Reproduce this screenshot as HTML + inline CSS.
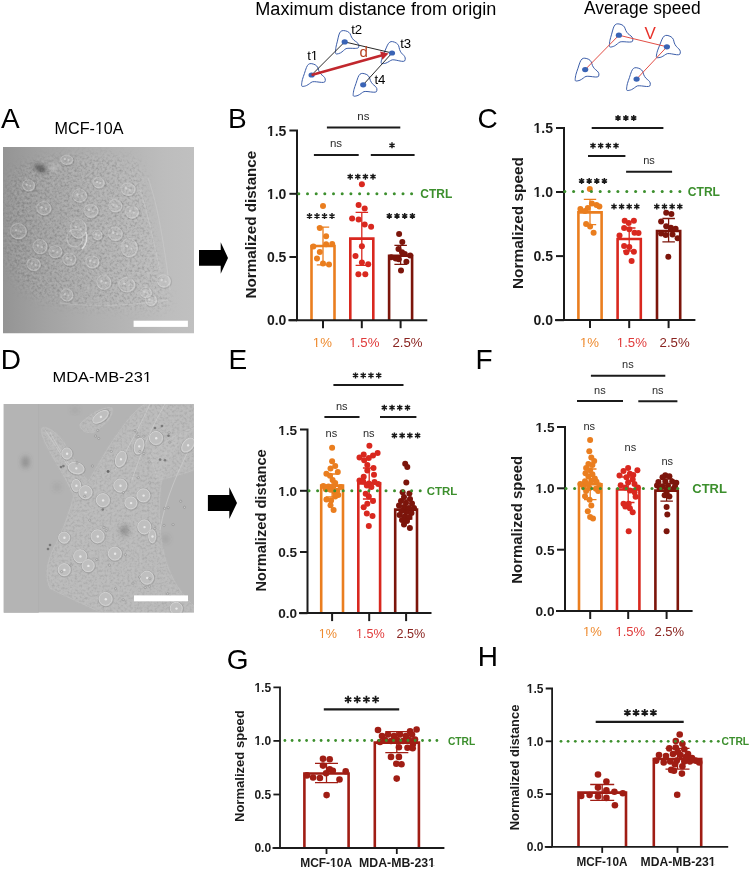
<!DOCTYPE html>
<html><head><meta charset="utf-8"><style>
html,body{margin:0;padding:0;background:#fff;}
body{width:749px;height:869px;overflow:hidden;}
svg{display:block;will-change:transform;}
</style></head><body>
<svg width="749" height="869" viewBox="0 0 749 869" font-family="Liberation Sans, sans-serif">
<rect width="749" height="869" fill="#fff"/>
<text x="255.3" y="15.0" font-size="18.00" font-weight="normal" fill="#000" text-anchor="start" textLength="241.0" lengthAdjust="spacingAndGlyphs">Maximum distance from origin</text>
<text x="583.9" y="14.2" font-size="17.60" font-weight="normal" fill="#000" text-anchor="start" textLength="116.8" lengthAdjust="spacingAndGlyphs">Average speed</text>
<path d="M308.40,64.40C309.20,63.73 310.07,63.53 311.20,63.60C312.33,63.67 314.13,64.20 315.20,64.80C316.27,65.40 317.00,66.20 317.60,67.20C318.20,68.20 318.27,69.67 318.80,70.80C319.33,71.93 320.00,73.07 320.80,74.00C321.60,74.93 322.87,75.60 323.60,76.40C324.33,77.20 325.00,77.88 325.20,78.80C325.40,79.72 325.40,81.30 324.80,81.90C324.20,82.50 323.00,82.42 321.60,82.40C320.20,82.38 317.93,81.90 316.40,81.80C314.87,81.70 313.53,81.50 312.40,81.80C311.27,82.10 310.60,82.97 309.60,83.60C308.60,84.23 307.60,85.13 306.40,85.60C305.20,86.07 303.20,86.53 302.40,86.40C301.60,86.27 301.60,85.93 301.60,84.80C301.60,83.67 301.93,81.47 302.40,79.60C302.87,77.73 303.73,75.60 304.40,73.60C305.07,71.60 305.73,69.13 306.40,67.60C307.07,66.07 307.60,65.07 308.40,64.40Z" fill="none" stroke="#3B5DA9" stroke-width="1.0"/>
<path d="M340.59,31.62C341.33,30.89 342.17,30.61 343.31,30.58C344.44,30.55 346.28,30.92 347.40,31.43C348.51,31.93 349.31,32.66 350.00,33.61C350.68,34.55 350.88,36.01 351.51,37.09C352.14,38.17 352.90,39.24 353.78,40.10C354.66,40.96 355.98,41.52 356.78,42.25C357.58,42.98 358.30,43.60 358.58,44.50C358.86,45.40 359.00,46.97 358.45,47.62C357.91,48.27 356.70,48.29 355.31,48.40C353.91,48.51 351.61,48.22 350.07,48.26C348.54,48.29 347.19,48.21 346.09,48.60C344.99,49.00 344.40,49.92 343.46,50.64C342.52,51.36 341.60,52.34 340.44,52.91C339.29,53.48 337.34,54.12 336.53,54.06C335.72,54.00 335.69,53.66 335.59,52.53C335.49,51.41 335.63,49.18 335.94,47.28C336.24,45.38 336.92,43.18 337.41,41.13C337.90,39.08 338.34,36.57 338.87,34.98C339.41,33.40 339.85,32.35 340.59,31.62Z" fill="none" stroke="#3B5DA9" stroke-width="1.0"/>
<path d="M389.74,42.16C390.59,41.57 391.47,41.44 392.60,41.61C393.72,41.77 395.46,42.46 396.48,43.15C397.49,43.84 398.15,44.70 398.66,45.75C399.17,46.80 399.11,48.27 399.54,49.44C399.97,50.62 400.54,51.81 401.25,52.81C401.97,53.81 403.17,54.58 403.83,55.44C404.49,56.30 405.10,57.04 405.22,57.97C405.34,58.90 405.20,60.48 404.55,61.02C403.90,61.57 402.71,61.38 401.32,61.24C399.92,61.10 397.71,60.43 396.19,60.19C394.67,59.96 393.36,59.64 392.20,59.84C391.05,60.04 390.31,60.85 389.26,61.39C388.21,61.94 387.13,62.75 385.90,63.11C384.66,63.47 382.63,63.76 381.84,63.55C381.06,63.35 381.09,63.02 381.18,61.89C381.28,60.76 381.81,58.60 382.43,56.78C383.06,54.96 384.11,52.91 384.95,50.98C385.79,49.04 386.67,46.64 387.46,45.17C388.26,43.71 388.88,42.76 389.74,42.16Z" fill="none" stroke="#3B5DA9" stroke-width="1.0"/>
<path d="M360.00,74.20C360.80,73.53 361.67,73.33 362.80,73.40C363.93,73.47 365.73,74.00 366.80,74.60C367.87,75.20 368.60,76.00 369.20,77.00C369.80,78.00 369.87,79.47 370.40,80.60C370.93,81.73 371.60,82.87 372.40,83.80C373.20,84.73 374.47,85.40 375.20,86.20C375.93,87.00 376.60,87.68 376.80,88.60C377.00,89.52 377.00,91.10 376.40,91.70C375.80,92.30 374.60,92.22 373.20,92.20C371.80,92.18 369.53,91.70 368.00,91.60C366.47,91.50 365.13,91.30 364.00,91.60C362.87,91.90 362.20,92.77 361.20,93.40C360.20,94.03 359.20,94.93 358.00,95.40C356.80,95.87 354.80,96.33 354.00,96.20C353.20,96.07 353.20,95.73 353.20,94.60C353.20,93.47 353.53,91.27 354.00,89.40C354.47,87.53 355.33,85.40 356.00,83.40C356.67,81.40 357.33,78.93 358.00,77.40C358.67,75.87 359.20,74.87 360.00,74.20Z" fill="none" stroke="#3B5DA9" stroke-width="1.0"/>
<path d="M311.6,75.0L344.7,41.9L392.0,53.0L363.2,84.8" stroke="#111" stroke-width="0.9" fill="none"/>
<ellipse cx="311.6" cy="75.0" rx="3.1" ry="2.6" fill="#3A64B5"/>
<ellipse cx="344.7" cy="41.9" rx="3.1" ry="2.6" fill="#3A64B5"/>
<ellipse cx="392.0" cy="53.0" rx="3.1" ry="2.6" fill="#3A64B5"/>
<ellipse cx="363.2" cy="84.8" rx="3.1" ry="2.6" fill="#3A64B5"/>
<line x1="311.6" y1="75.0" x2="382.2" y2="55.3" stroke="#C1272D" stroke-width="2.6"/>
<path d="M388.5,53.6L382.4,59.7L380.1,51.6Z" fill="#C1272D"/>
<clipPath id="t1c1"><path d="M-10,-10H760V880H-10ZM310.87,59.01H314.14V61.90H310.87ZM315.40,59.01H318.56V61.90H315.40Z" clip-rule="evenodd"/></clipPath>
<text x="307.2" y="60.4" font-size="13.20" font-weight="normal" fill="#000" text-anchor="start" clip-path="url(#t1c1)">t1</text>
<text x="351.2" y="34.4" font-size="13.20" font-weight="normal" fill="#000" text-anchor="start">t2</text>
<text x="400.2" y="48.0" font-size="13.20" font-weight="normal" fill="#000" text-anchor="start">t3</text>
<text x="374.4" y="84.3" font-size="13.20" font-weight="normal" fill="#000" text-anchor="start">t4</text>
<text x="359.5" y="57.1" font-size="15.00" font-weight="normal" fill="#B5401F" text-anchor="start">d</text>
<path d="M615.15,24.78C615.91,24.07 616.77,23.83 617.90,23.84C619.04,23.84 620.86,24.28 621.96,24.83C623.06,25.37 623.83,26.13 624.48,27.10C625.14,28.06 625.28,29.53 625.87,30.63C626.46,31.73 627.19,32.83 628.04,33.72C628.88,34.61 630.18,35.21 630.96,35.97C631.73,36.73 632.43,37.38 632.68,38.28C632.93,39.19 633.01,40.77 632.44,41.40C631.88,42.03 630.67,42.01 629.27,42.07C627.87,42.12 625.59,41.76 624.05,41.74C622.51,41.72 621.17,41.59 620.05,41.95C618.94,42.31 618.32,43.21 617.35,43.89C616.39,44.58 615.44,45.53 614.26,46.06C613.09,46.59 611.12,47.16 610.31,47.07C609.50,46.97 609.49,46.64 609.43,45.51C609.37,44.38 609.59,42.16 609.95,40.28C610.32,38.39 611.08,36.21 611.64,34.18C612.20,32.15 612.73,29.65 613.32,28.08C613.91,26.52 614.39,25.49 615.15,24.78Z" fill="none" stroke="#3B5DA9" stroke-width="1.0"/>
<path d="M664.26,36.05C665.09,35.42 665.97,35.27 667.10,35.39C668.23,35.52 670.00,36.15 671.03,36.80C672.06,37.46 672.75,38.29 673.30,39.32C673.85,40.35 673.84,41.82 674.31,42.98C674.78,44.14 675.39,45.31 676.14,46.28C676.89,47.26 678.12,47.99 678.81,48.83C679.50,49.66 680.13,50.38 680.28,51.31C680.43,52.23 680.35,53.81 679.72,54.38C679.09,54.95 677.90,54.80 676.50,54.71C675.10,54.62 672.86,54.02 671.34,53.84C669.81,53.66 668.49,53.39 667.34,53.63C666.20,53.87 665.48,54.70 664.45,55.28C663.42,55.86 662.38,56.71 661.15,57.11C659.93,57.52 657.91,57.88 657.12,57.70C656.32,57.53 656.34,57.19 656.40,56.06C656.46,54.93 656.91,52.75 657.47,50.91C658.04,49.07 659.01,46.99 659.78,45.03C660.55,43.06 661.35,40.63 662.09,39.14C662.84,37.64 663.43,36.67 664.26,36.05Z" fill="none" stroke="#3B5DA9" stroke-width="1.0"/>
<path d="M582.00,59.00C582.80,58.33 583.67,58.13 584.80,58.20C585.93,58.27 587.73,58.80 588.80,59.40C589.87,60.00 590.60,60.80 591.20,61.80C591.80,62.80 591.87,64.27 592.40,65.40C592.93,66.53 593.60,67.67 594.40,68.60C595.20,69.53 596.47,70.20 597.20,71.00C597.93,71.80 598.60,72.48 598.80,73.40C599.00,74.32 599.00,75.90 598.40,76.50C597.80,77.10 596.60,77.02 595.20,77.00C593.80,76.98 591.53,76.50 590.00,76.40C588.47,76.30 587.13,76.10 586.00,76.40C584.87,76.70 584.20,77.57 583.20,78.20C582.20,78.83 581.20,79.73 580.00,80.20C578.80,80.67 576.80,81.13 576.00,81.00C575.20,80.87 575.20,80.53 575.20,79.40C575.20,78.27 575.53,76.07 576.00,74.20C576.47,72.33 577.33,70.20 578.00,68.20C578.67,66.20 579.33,63.73 580.00,62.20C580.67,60.67 581.20,59.67 582.00,59.00Z" fill="none" stroke="#3B5DA9" stroke-width="1.0"/>
<path d="M633.40,68.50C634.20,67.83 635.07,67.63 636.20,67.70C637.33,67.77 639.13,68.30 640.20,68.90C641.27,69.50 642.00,70.30 642.60,71.30C643.20,72.30 643.27,73.77 643.80,74.90C644.33,76.03 645.00,77.17 645.80,78.10C646.60,79.03 647.87,79.70 648.60,80.50C649.33,81.30 650.00,81.98 650.20,82.90C650.40,83.82 650.40,85.40 649.80,86.00C649.20,86.60 648.00,86.52 646.60,86.50C645.20,86.48 642.93,86.00 641.40,85.90C639.87,85.80 638.53,85.60 637.40,85.90C636.27,86.20 635.60,87.07 634.60,87.70C633.60,88.33 632.60,89.23 631.40,89.70C630.20,90.17 628.20,90.63 627.40,90.50C626.60,90.37 626.60,90.03 626.60,88.90C626.60,87.77 626.93,85.57 627.40,83.70C627.87,81.83 628.73,79.70 629.40,77.70C630.07,75.70 630.73,73.23 631.40,71.70C632.07,70.17 632.60,69.17 633.40,68.50Z" fill="none" stroke="#3B5DA9" stroke-width="1.0"/>
<path d="M585.2,69.6L618.9,35.2L666.9,46.8L636.6,79.1" stroke="#E0453B" stroke-width="0.95" fill="none"/>
<ellipse cx="618.9" cy="35.2" rx="3.1" ry="2.6" fill="#3A64B5"/>
<ellipse cx="666.9" cy="46.8" rx="3.1" ry="2.6" fill="#3A64B5"/>
<ellipse cx="585.2" cy="69.6" rx="3.1" ry="2.6" fill="#3A64B5"/>
<ellipse cx="636.6" cy="79.1" rx="3.1" ry="2.6" fill="#3A64B5"/>
<text x="644.6" y="39.2" font-size="17.00" font-weight="normal" fill="#E8312A" text-anchor="start">V</text>
<path d="M311.5,320.2V246.0H334.5V320.2" fill="none" stroke="#EA7E1F" stroke-width="2.60" stroke-linejoin="miter"/>
<path d="M350.3,320.2V238.6H373.3V320.2" fill="none" stroke="#D9281F" stroke-width="2.60" stroke-linejoin="miter"/>
<path d="M389.1,320.2V255.8H412.1V320.2" fill="none" stroke="#7C150B" stroke-width="2.60" stroke-linejoin="miter"/>
<circle cx="323.0" cy="206.0" r="3.00" fill="#EA7E1F"/>
<circle cx="319.8" cy="228.1" r="3.00" fill="#EA7E1F"/>
<circle cx="326.1" cy="236.2" r="3.00" fill="#EA7E1F"/>
<circle cx="326.1" cy="244.2" r="3.00" fill="#EA7E1F"/>
<circle cx="332.2" cy="244.0" r="3.00" fill="#EA7E1F"/>
<circle cx="313.4" cy="246.5" r="3.00" fill="#EA7E1F"/>
<circle cx="319.8" cy="252.0" r="3.00" fill="#EA7E1F"/>
<circle cx="317.0" cy="258.5" r="3.00" fill="#EA7E1F"/>
<circle cx="323.0" cy="263.5" r="3.00" fill="#EA7E1F"/>
<circle cx="329.0" cy="264.5" r="3.00" fill="#EA7E1F"/>
<circle cx="361.9" cy="184.2" r="3.00" fill="#D9281F"/>
<circle cx="358.6" cy="205.1" r="3.00" fill="#D9281F"/>
<circle cx="364.7" cy="208.4" r="3.00" fill="#D9281F"/>
<circle cx="352.1" cy="218.5" r="3.00" fill="#D9281F"/>
<circle cx="358.6" cy="219.6" r="3.00" fill="#D9281F"/>
<circle cx="364.7" cy="224.5" r="3.00" fill="#D9281F"/>
<circle cx="371.1" cy="226.8" r="3.00" fill="#D9281F"/>
<circle cx="361.9" cy="246.3" r="3.00" fill="#D9281F"/>
<circle cx="355.5" cy="255.9" r="3.00" fill="#D9281F"/>
<circle cx="361.9" cy="262.5" r="3.00" fill="#D9281F"/>
<circle cx="368.2" cy="264.2" r="3.00" fill="#D9281F"/>
<circle cx="358.4" cy="274.2" r="3.00" fill="#D9281F"/>
<circle cx="365.3" cy="274.2" r="3.00" fill="#D9281F"/>
<circle cx="399.1" cy="233.9" r="3.00" fill="#7C150B"/>
<circle cx="402.3" cy="242.1" r="3.00" fill="#7C150B"/>
<circle cx="398.5" cy="249.1" r="3.00" fill="#7C150B"/>
<circle cx="402.0" cy="252.2" r="3.00" fill="#7C150B"/>
<circle cx="404.8" cy="254.1" r="3.00" fill="#7C150B"/>
<circle cx="410.2" cy="255.4" r="3.00" fill="#7C150B"/>
<circle cx="391.2" cy="257.3" r="3.00" fill="#7C150B"/>
<circle cx="395.7" cy="258.5" r="3.00" fill="#7C150B"/>
<circle cx="398.8" cy="259.2" r="3.00" fill="#7C150B"/>
<circle cx="406.4" cy="261.7" r="3.00" fill="#7C150B"/>
<circle cx="401.0" cy="270.6" r="3.00" fill="#7C150B"/>
<path d="M323.0,227.2V264.8M316.8,227.2H329.2M316.8,264.8H329.2" stroke="#EA7E1F" stroke-width="1.3" fill="none"/>
<path d="M361.8,212.3V265.3M355.6,212.3H368.1M355.6,265.3H368.1" stroke="#D9281F" stroke-width="1.3" fill="none"/>
<path d="M400.6,245.4V264.4M394.4,245.4H406.9M394.4,264.4H406.9" stroke="#7C150B" stroke-width="1.3" fill="none"/>
<path d="M289.4,130.6H297.0V320.2H427.3" fill="none" stroke="#1b1b1b" stroke-width="2.00" stroke-linejoin="miter"/>
<path d="M289.4,320.2H297.0" stroke="#1b1b1b" stroke-width="2.00"/>
<path d="M289.4,257.0H297.0" stroke="#1b1b1b" stroke-width="2.00"/>
<path d="M289.4,193.8H297.0" stroke="#1b1b1b" stroke-width="2.00"/>
<path d="M288.4,320.2H297.0" stroke="#1b1b1b" stroke-width="2.00"/>
<path d="M323.0,320.2V328.2" stroke="#1b1b1b" stroke-width="2.00"/>
<path d="M361.8,320.2V328.2" stroke="#1b1b1b" stroke-width="2.00"/>
<path d="M400.6,320.2V328.2" stroke="#1b1b1b" stroke-width="2.00"/>
<text x="286.4" y="325.2" font-size="14.00" font-weight="bold" fill="#1b1b1b" text-anchor="end">0.0</text>
<text x="286.4" y="262.0" font-size="14.00" font-weight="bold" fill="#1b1b1b" text-anchor="end">0.5</text>
<clipPath id="t1c2"><path d="M-10,-10H760V880H-10ZM266.82,196.98H270.16V200.31H266.82ZM272.18,196.98H275.33V200.31H272.18Z" clip-rule="evenodd"/></clipPath>
<text x="286.4" y="198.8" font-size="14.00" font-weight="bold" fill="#1b1b1b" text-anchor="end" clip-path="url(#t1c2)">1.0</text>
<clipPath id="t1c3"><path d="M-10,-10H760V880H-10ZM266.82,133.78H270.16V137.11H266.82ZM272.18,133.78H275.33V137.11H272.18Z" clip-rule="evenodd"/></clipPath>
<text x="286.4" y="135.6" font-size="14.00" font-weight="bold" fill="#1b1b1b" text-anchor="end" clip-path="url(#t1c3)">1.5</text>
<clipPath id="t1c4"><path d="M-10,-10H760V880H-10ZM312.81,345.51H316.07V348.40H312.81ZM317.34,345.51H320.50V348.40H317.34Z" clip-rule="evenodd"/></clipPath>
<text x="312.8" y="346.9" font-size="13.20" font-weight="normal" fill="#EE8A2E" text-anchor="start" clip-path="url(#t1c4)">1%</text>
<clipPath id="t1c5"><path d="M-10,-10H760V880H-10ZM349.31,345.51H352.57V348.40H349.31ZM353.84,345.51H357.00V348.40H353.84Z" clip-rule="evenodd"/></clipPath>
<text x="349.3" y="346.9" font-size="13.20" font-weight="normal" fill="#E03A3A" text-anchor="start" clip-path="url(#t1c5)">1.5%</text>
<text x="392.4" y="346.9" font-size="13.20" font-weight="normal" fill="#8A2420" text-anchor="start">2.5%</text>
<text transform="translate(255.5,224.6) rotate(-90)" x="0" y="0" font-size="15.20" font-weight="bold" fill="#1b1b1b" text-anchor="middle" textLength="147.7" lengthAdjust="spacingAndGlyphs">Normalized distance</text>
<circle cx="298.8" cy="193.7" r="1.50" fill="#3C8F2D"/>
<circle cx="307.5" cy="193.7" r="1.50" fill="#3C8F2D"/>
<circle cx="316.2" cy="193.7" r="1.50" fill="#3C8F2D"/>
<circle cx="324.8" cy="193.7" r="1.50" fill="#3C8F2D"/>
<circle cx="333.5" cy="193.7" r="1.50" fill="#3C8F2D"/>
<circle cx="342.2" cy="193.7" r="1.50" fill="#3C8F2D"/>
<circle cx="350.9" cy="193.7" r="1.50" fill="#3C8F2D"/>
<circle cx="359.6" cy="193.7" r="1.50" fill="#3C8F2D"/>
<circle cx="368.2" cy="193.7" r="1.50" fill="#3C8F2D"/>
<circle cx="376.9" cy="193.7" r="1.50" fill="#3C8F2D"/>
<circle cx="385.6" cy="193.7" r="1.50" fill="#3C8F2D"/>
<circle cx="394.3" cy="193.7" r="1.50" fill="#3C8F2D"/>
<circle cx="403.0" cy="193.7" r="1.50" fill="#3C8F2D"/>
<circle cx="411.6" cy="193.7" r="1.50" fill="#3C8F2D"/>
<text x="420.3" y="197.7" font-size="12.00" font-weight="bold" fill="#3C8F2D" text-anchor="start" textLength="32.0" lengthAdjust="spacingAndGlyphs">CTRL</text>
<path d="M326.9,127.6H400.3" stroke="#1b1b1b" stroke-width="2.00"/>
<text x="363.4" y="119.8" font-size="11.50" font-weight="normal" fill="#2a2a2a" text-anchor="middle">ns</text>
<path d="M313.9,155.0H358.7" stroke="#1b1b1b" stroke-width="2.00"/>
<text x="336.0" y="147.3" font-size="11.50" font-weight="normal" fill="#2a2a2a" text-anchor="middle">ns</text>
<path d="M370.8,155.0H414.6" stroke="#1b1b1b" stroke-width="2.00"/>
<path d="M392.00,142.30L392.00,148.30M389.40,143.80L394.60,146.80M394.60,143.80L389.40,146.80" stroke="#1a1a1a" stroke-width="1.45" stroke-linecap="butt" fill="none"/>
<path d="M309.50,213.10L309.50,219.10M306.90,214.60L312.10,217.60M312.10,214.60L306.90,217.60M317.00,213.10L317.00,219.10M314.40,214.60L319.60,217.60M319.60,214.60L314.40,217.60M324.50,213.10L324.50,219.10M321.90,214.60L327.10,217.60M327.10,214.60L321.90,217.60M332.00,213.10L332.00,219.10M329.40,214.60L334.60,217.60M334.60,214.60L329.40,217.60" stroke="#1a1a1a" stroke-width="1.45" stroke-linecap="butt" fill="none"/>
<path d="M350.20,173.70L350.20,179.70M347.60,175.20L352.80,178.20M352.80,175.20L347.60,178.20M357.80,173.70L357.80,179.70M355.20,175.20L360.40,178.20M360.40,175.20L355.20,178.20M365.40,173.70L365.40,179.70M362.80,175.20L368.00,178.20M368.00,175.20L362.80,178.20M373.00,173.70L373.00,179.70M370.40,175.20L375.60,178.20M375.60,175.20L370.40,178.20" stroke="#1a1a1a" stroke-width="1.45" stroke-linecap="butt" fill="none"/>
<path d="M389.30,212.90L389.30,218.90M386.70,214.40L391.90,217.40M391.90,214.40L386.70,217.40M397.00,212.90L397.00,218.90M394.40,214.40L399.60,217.40M399.60,214.40L394.40,217.40M404.70,212.90L404.70,218.90M402.10,214.40L407.30,217.40M407.30,214.40L402.10,217.40M412.40,212.90L412.40,218.90M409.80,214.40L415.00,217.40M415.00,214.40L409.80,217.40" stroke="#1a1a1a" stroke-width="1.45" stroke-linecap="butt" fill="none"/>
<path d="M578.4,320.1V212.4H601.6V320.1" fill="none" stroke="#EA7E1F" stroke-width="2.60" stroke-linejoin="miter"/>
<path d="M617.6,320.1V239.0H640.8V320.1" fill="none" stroke="#D9281F" stroke-width="2.60" stroke-linejoin="miter"/>
<path d="M657.0,320.1V231.0H680.2V320.1" fill="none" stroke="#7C150B" stroke-width="2.60" stroke-linejoin="miter"/>
<circle cx="589.8" cy="189.0" r="3.00" fill="#EA7E1F"/>
<circle cx="591.9" cy="203.4" r="3.00" fill="#EA7E1F"/>
<circle cx="596.5" cy="205.1" r="3.00" fill="#EA7E1F"/>
<circle cx="599.4" cy="206.6" r="3.00" fill="#EA7E1F"/>
<circle cx="587.8" cy="208.0" r="3.00" fill="#EA7E1F"/>
<circle cx="580.4" cy="209.1" r="3.00" fill="#EA7E1F"/>
<circle cx="585.0" cy="210.9" r="3.00" fill="#EA7E1F"/>
<circle cx="586.1" cy="224.1" r="3.00" fill="#EA7E1F"/>
<circle cx="590.1" cy="226.4" r="3.00" fill="#EA7E1F"/>
<circle cx="593.6" cy="232.7" r="3.00" fill="#EA7E1F"/>
<circle cx="624.7" cy="220.7" r="3.00" fill="#D9281F"/>
<circle cx="633.9" cy="220.7" r="3.00" fill="#D9281F"/>
<circle cx="628.7" cy="223.0" r="3.00" fill="#D9281F"/>
<circle cx="624.1" cy="228.1" r="3.00" fill="#D9281F"/>
<circle cx="629.3" cy="229.3" r="3.00" fill="#D9281F"/>
<circle cx="634.5" cy="232.7" r="3.00" fill="#D9281F"/>
<circle cx="638.5" cy="233.1" r="3.00" fill="#D9281F"/>
<circle cx="619.5" cy="235.6" r="3.00" fill="#D9281F"/>
<circle cx="624.1" cy="246.0" r="3.00" fill="#D9281F"/>
<circle cx="629.3" cy="247.1" r="3.00" fill="#D9281F"/>
<circle cx="626.4" cy="252.3" r="3.00" fill="#D9281F"/>
<circle cx="633.9" cy="251.7" r="3.00" fill="#D9281F"/>
<circle cx="631.6" cy="261.0" r="3.00" fill="#D9281F"/>
<circle cx="666.2" cy="212.8" r="3.00" fill="#7C150B"/>
<circle cx="671.4" cy="214.0" r="3.00" fill="#7C150B"/>
<circle cx="661.1" cy="221.6" r="3.00" fill="#7C150B"/>
<circle cx="666.2" cy="226.2" r="3.00" fill="#7C150B"/>
<circle cx="670.9" cy="227.8" r="3.00" fill="#7C150B"/>
<circle cx="675.6" cy="228.8" r="3.00" fill="#7C150B"/>
<circle cx="661.1" cy="233.5" r="3.00" fill="#7C150B"/>
<circle cx="665.7" cy="235.0" r="3.00" fill="#7C150B"/>
<circle cx="672.5" cy="234.5" r="3.00" fill="#7C150B"/>
<circle cx="677.6" cy="238.2" r="3.00" fill="#7C150B"/>
<circle cx="668.3" cy="256.8" r="3.00" fill="#7C150B"/>
<path d="M590.0,199.4V224.6M583.8,199.4H596.2M583.8,224.6H596.2" stroke="#EA7E1F" stroke-width="1.3" fill="none"/>
<path d="M629.2,228.0V251.0M623.0,228.0H635.5M623.0,251.0H635.5" stroke="#D9281F" stroke-width="1.3" fill="none"/>
<path d="M668.6,218.5V241.8M662.4,218.5H674.9M662.4,241.8H674.9" stroke="#7C150B" stroke-width="1.3" fill="none"/>
<path d="M556.0,128.0H564.0V320.1H695.4" fill="none" stroke="#1b1b1b" stroke-width="2.00" stroke-linejoin="miter"/>
<path d="M556.0,320.1H564.0" stroke="#1b1b1b" stroke-width="2.00"/>
<path d="M556.0,256.1H564.0" stroke="#1b1b1b" stroke-width="2.00"/>
<path d="M556.0,192.0H564.0" stroke="#1b1b1b" stroke-width="2.00"/>
<path d="M555.0,320.1H564.0" stroke="#1b1b1b" stroke-width="2.00"/>
<path d="M590.0,320.1V328.1" stroke="#1b1b1b" stroke-width="2.00"/>
<path d="M629.2,320.1V328.1" stroke="#1b1b1b" stroke-width="2.00"/>
<path d="M668.6,320.1V328.1" stroke="#1b1b1b" stroke-width="2.00"/>
<text x="553.0" y="325.1" font-size="14.00" font-weight="bold" fill="#1b1b1b" text-anchor="end">0.0</text>
<text x="553.0" y="261.1" font-size="14.00" font-weight="bold" fill="#1b1b1b" text-anchor="end">0.5</text>
<clipPath id="t1c6"><path d="M-10,-10H760V880H-10ZM533.42,195.18H536.76V198.51H533.42ZM538.78,195.18H541.93V198.51H538.78Z" clip-rule="evenodd"/></clipPath>
<text x="553.0" y="197.0" font-size="14.00" font-weight="bold" fill="#1b1b1b" text-anchor="end" clip-path="url(#t1c6)">1.0</text>
<clipPath id="t1c7"><path d="M-10,-10H760V880H-10ZM533.42,131.13H536.76V134.46H533.42ZM538.78,131.13H541.93V134.46H538.78Z" clip-rule="evenodd"/></clipPath>
<text x="553.0" y="133.0" font-size="14.00" font-weight="bold" fill="#1b1b1b" text-anchor="end" clip-path="url(#t1c7)">1.5</text>
<clipPath id="t1c8"><path d="M-10,-10H760V880H-10ZM579.91,345.31H583.17V348.20H579.91ZM584.44,345.31H587.60V348.20H584.44Z" clip-rule="evenodd"/></clipPath>
<text x="579.9" y="346.7" font-size="13.20" font-weight="normal" fill="#EE8A2E" text-anchor="start" clip-path="url(#t1c8)">1%</text>
<clipPath id="t1c9"><path d="M-10,-10H760V880H-10ZM616.81,345.31H620.07V348.20H616.81ZM621.34,345.31H624.50V348.20H621.34Z" clip-rule="evenodd"/></clipPath>
<text x="616.8" y="346.7" font-size="13.20" font-weight="normal" fill="#E03A3A" text-anchor="start" clip-path="url(#t1c9)">1.5%</text>
<text x="659.6" y="346.7" font-size="13.20" font-weight="normal" fill="#8A2420" text-anchor="start">2.5%</text>
<text transform="translate(523.0,223.0) rotate(-90)" x="0" y="0" font-size="15.50" font-weight="bold" fill="#1b1b1b" text-anchor="middle" textLength="132.1" lengthAdjust="spacingAndGlyphs">Normalized speed</text>
<circle cx="564.8" cy="191.6" r="1.50" fill="#3C8F2D"/>
<circle cx="573.6" cy="191.6" r="1.50" fill="#3C8F2D"/>
<circle cx="582.5" cy="191.6" r="1.50" fill="#3C8F2D"/>
<circle cx="591.4" cy="191.6" r="1.50" fill="#3C8F2D"/>
<circle cx="600.2" cy="191.6" r="1.50" fill="#3C8F2D"/>
<circle cx="609.1" cy="191.6" r="1.50" fill="#3C8F2D"/>
<circle cx="617.9" cy="191.6" r="1.50" fill="#3C8F2D"/>
<circle cx="626.8" cy="191.6" r="1.50" fill="#3C8F2D"/>
<circle cx="635.6" cy="191.6" r="1.50" fill="#3C8F2D"/>
<circle cx="644.5" cy="191.6" r="1.50" fill="#3C8F2D"/>
<circle cx="653.3" cy="191.6" r="1.50" fill="#3C8F2D"/>
<circle cx="662.2" cy="191.6" r="1.50" fill="#3C8F2D"/>
<circle cx="671.0" cy="191.6" r="1.50" fill="#3C8F2D"/>
<circle cx="679.9" cy="191.6" r="1.50" fill="#3C8F2D"/>
<text x="687.8" y="196.0" font-size="12.00" font-weight="bold" fill="#3C8F2D" text-anchor="start" textLength="32.2" lengthAdjust="spacingAndGlyphs">CTRL</text>
<path d="M591.7,128.1H663.4" stroke="#1b1b1b" stroke-width="2.00"/>
<path d="M618.00,115.00L618.00,121.00M615.40,116.50L620.60,119.50M620.60,116.50L615.40,119.50M625.85,115.00L625.85,121.00M623.25,116.50L628.45,119.50M628.45,116.50L623.25,119.50M633.70,115.00L633.70,121.00M631.10,116.50L636.30,119.50M636.30,116.50L631.10,119.50" stroke="#1a1a1a" stroke-width="1.45" stroke-linecap="butt" fill="none"/>
<path d="M588.0,156.1H625.4" stroke="#1b1b1b" stroke-width="2.00"/>
<path d="M593.00,142.70L593.00,148.70M590.40,144.20L595.60,147.20M595.60,144.20L590.40,147.20M600.67,142.70L600.67,148.70M598.07,144.20L603.26,147.20M603.26,144.20L598.07,147.20M608.33,142.70L608.33,148.70M605.74,144.20L610.93,147.20M610.93,144.20L605.74,147.20M616.00,142.70L616.00,148.70M613.40,144.20L618.60,147.20M618.60,144.20L613.40,147.20" stroke="#1a1a1a" stroke-width="1.45" stroke-linecap="butt" fill="none"/>
<path d="M626.1,171.8H672.1" stroke="#1b1b1b" stroke-width="2.00"/>
<text x="649.0" y="163.7" font-size="11.00" font-weight="normal" fill="#2a2a2a" text-anchor="middle">ns</text>
<path d="M581.60,177.90L581.60,183.90M579.00,179.40L584.20,182.40M584.20,179.40L579.00,182.40M589.20,177.90L589.20,183.90M586.60,179.40L591.80,182.40M591.80,179.40L586.60,182.40M596.80,177.90L596.80,183.90M594.20,179.40L599.40,182.40M599.40,179.40L594.20,182.40M604.40,177.90L604.40,183.90M601.80,179.40L607.00,182.40M607.00,179.40L601.80,182.40" stroke="#1a1a1a" stroke-width="1.45" stroke-linecap="butt" fill="none"/>
<path d="M614.00,203.60L614.00,209.60M611.40,205.10L616.60,208.10M616.60,205.10L611.40,208.10M621.60,203.60L621.60,209.60M619.00,205.10L624.20,208.10M624.20,205.10L619.00,208.10M629.20,203.60L629.20,209.60M626.60,205.10L631.80,208.10M631.80,205.10L626.60,208.10M636.80,203.60L636.80,209.60M634.20,205.10L639.40,208.10M639.40,205.10L634.20,208.10" stroke="#1a1a1a" stroke-width="1.45" stroke-linecap="butt" fill="none"/>
<path d="M656.80,203.60L656.80,209.60M654.20,205.10L659.40,208.10M659.40,205.10L654.20,208.10M664.47,203.60L664.47,209.60M661.87,205.10L667.06,208.10M667.06,205.10L661.87,208.10M672.13,203.60L672.13,209.60M669.54,205.10L674.73,208.10M674.73,205.10L669.54,208.10M679.80,203.60L679.80,209.60M677.20,205.10L682.40,208.10M682.40,205.10L677.20,208.10" stroke="#1a1a1a" stroke-width="1.45" stroke-linecap="butt" fill="none"/>
<path d="M321.2,613.1V485.6H343.0V613.1" fill="none" stroke="#EA7E1F" stroke-width="2.60" stroke-linejoin="miter"/>
<path d="M358.3,613.1V483.4H380.1V613.1" fill="none" stroke="#D9281F" stroke-width="2.60" stroke-linejoin="miter"/>
<path d="M395.2,613.1V509.6H417.0V613.1" fill="none" stroke="#7C150B" stroke-width="2.60" stroke-linejoin="miter"/>
<circle cx="332.1" cy="447.8" r="3.00" fill="#EA7E1F"/>
<circle cx="332.1" cy="461.2" r="3.00" fill="#EA7E1F"/>
<circle cx="335.2" cy="465.9" r="3.00" fill="#EA7E1F"/>
<circle cx="330.5" cy="468.5" r="3.00" fill="#EA7E1F"/>
<circle cx="337.8" cy="472.1" r="3.00" fill="#EA7E1F"/>
<circle cx="326.4" cy="473.7" r="3.00" fill="#EA7E1F"/>
<circle cx="330.0" cy="475.7" r="3.00" fill="#EA7E1F"/>
<circle cx="332.6" cy="479.9" r="3.00" fill="#EA7E1F"/>
<circle cx="335.2" cy="483.0" r="3.00" fill="#EA7E1F"/>
<circle cx="323.3" cy="486.1" r="3.00" fill="#EA7E1F"/>
<circle cx="328.5" cy="486.6" r="3.00" fill="#EA7E1F"/>
<circle cx="333.1" cy="487.1" r="3.00" fill="#EA7E1F"/>
<circle cx="340.9" cy="487.1" r="3.00" fill="#EA7E1F"/>
<circle cx="325.9" cy="489.2" r="3.00" fill="#EA7E1F"/>
<circle cx="330.5" cy="489.7" r="3.00" fill="#EA7E1F"/>
<circle cx="337.3" cy="490.7" r="3.00" fill="#EA7E1F"/>
<circle cx="334.7" cy="492.3" r="3.00" fill="#EA7E1F"/>
<circle cx="338.3" cy="494.9" r="3.00" fill="#EA7E1F"/>
<circle cx="335.2" cy="496.4" r="3.00" fill="#EA7E1F"/>
<circle cx="326.4" cy="499.5" r="3.00" fill="#EA7E1F"/>
<circle cx="331.1" cy="500.6" r="3.00" fill="#EA7E1F"/>
<circle cx="330.5" cy="505.2" r="3.00" fill="#EA7E1F"/>
<circle cx="333.6" cy="509.9" r="3.00" fill="#EA7E1F"/>
<circle cx="369.4" cy="445.7" r="3.00" fill="#D9281F"/>
<circle cx="377.6" cy="452.9" r="3.00" fill="#D9281F"/>
<circle cx="363.7" cy="454.5" r="3.00" fill="#D9281F"/>
<circle cx="373.0" cy="455.5" r="3.00" fill="#D9281F"/>
<circle cx="359.5" cy="457.6" r="3.00" fill="#D9281F"/>
<circle cx="368.8" cy="458.1" r="3.00" fill="#D9281F"/>
<circle cx="364.2" cy="460.2" r="3.00" fill="#D9281F"/>
<circle cx="367.3" cy="464.9" r="3.00" fill="#D9281F"/>
<circle cx="373.5" cy="468.0" r="3.00" fill="#D9281F"/>
<circle cx="367.3" cy="470.5" r="3.00" fill="#D9281F"/>
<circle cx="374.0" cy="474.7" r="3.00" fill="#D9281F"/>
<circle cx="363.7" cy="476.8" r="3.00" fill="#D9281F"/>
<circle cx="359.5" cy="480.4" r="3.00" fill="#D9281F"/>
<circle cx="363.2" cy="481.4" r="3.00" fill="#D9281F"/>
<circle cx="368.8" cy="483.5" r="3.00" fill="#D9281F"/>
<circle cx="374.5" cy="481.9" r="3.00" fill="#D9281F"/>
<circle cx="378.2" cy="484.0" r="3.00" fill="#D9281F"/>
<circle cx="366.8" cy="485.6" r="3.00" fill="#D9281F"/>
<circle cx="371.4" cy="487.1" r="3.00" fill="#D9281F"/>
<circle cx="365.7" cy="493.8" r="3.00" fill="#D9281F"/>
<circle cx="368.8" cy="496.4" r="3.00" fill="#D9281F"/>
<circle cx="373.0" cy="501.1" r="3.00" fill="#D9281F"/>
<circle cx="367.3" cy="503.7" r="3.00" fill="#D9281F"/>
<circle cx="363.7" cy="507.3" r="3.00" fill="#D9281F"/>
<circle cx="366.8" cy="513.5" r="3.00" fill="#D9281F"/>
<circle cx="372.5" cy="516.1" r="3.00" fill="#D9281F"/>
<circle cx="368.8" cy="526.0" r="3.00" fill="#D9281F"/>
<circle cx="405.2" cy="463.8" r="3.00" fill="#7C150B"/>
<circle cx="407.3" cy="466.9" r="3.00" fill="#7C150B"/>
<circle cx="406.3" cy="482.5" r="3.00" fill="#7C150B"/>
<circle cx="402.6" cy="492.3" r="3.00" fill="#7C150B"/>
<circle cx="409.4" cy="493.4" r="3.00" fill="#7C150B"/>
<circle cx="404.0" cy="497.0" r="3.00" fill="#7C150B"/>
<circle cx="410.0" cy="499.0" r="3.00" fill="#7C150B"/>
<circle cx="401.0" cy="501.0" r="3.00" fill="#7C150B"/>
<circle cx="406.0" cy="503.0" r="3.00" fill="#7C150B"/>
<circle cx="412.0" cy="503.5" r="3.00" fill="#7C150B"/>
<circle cx="399.0" cy="505.5" r="3.00" fill="#7C150B"/>
<circle cx="404.0" cy="507.0" r="3.00" fill="#7C150B"/>
<circle cx="409.0" cy="508.0" r="3.00" fill="#7C150B"/>
<circle cx="414.0" cy="508.0" r="3.00" fill="#7C150B"/>
<circle cx="401.5" cy="511.0" r="3.00" fill="#7C150B"/>
<circle cx="406.5" cy="512.0" r="3.00" fill="#7C150B"/>
<circle cx="411.5" cy="513.0" r="3.00" fill="#7C150B"/>
<circle cx="399.5" cy="515.0" r="3.00" fill="#7C150B"/>
<circle cx="404.5" cy="516.5" r="3.00" fill="#7C150B"/>
<circle cx="409.5" cy="517.0" r="3.00" fill="#7C150B"/>
<circle cx="402.0" cy="520.0" r="3.00" fill="#7C150B"/>
<circle cx="407.0" cy="521.0" r="3.00" fill="#7C150B"/>
<circle cx="404.0" cy="524.5" r="3.00" fill="#7C150B"/>
<circle cx="409.9" cy="528.1" r="3.00" fill="#7C150B"/>
<path d="M332.1,474.0V497.0M325.9,474.0H338.4M325.9,497.0H338.4" stroke="#EA7E1F" stroke-width="1.3" fill="none"/>
<path d="M369.2,468.0V499.0M362.9,468.0H375.4M362.9,499.0H375.4" stroke="#D9281F" stroke-width="1.3" fill="none"/>
<path d="M406.1,500.0V519.0M399.9,500.0H412.4M399.9,519.0H412.4" stroke="#7C150B" stroke-width="1.3" fill="none"/>
<path d="M300.0,429.6H307.5V613.1H431.5" fill="none" stroke="#1b1b1b" stroke-width="2.00" stroke-linejoin="miter"/>
<path d="M300.0,613.1H307.5" stroke="#1b1b1b" stroke-width="2.00"/>
<path d="M300.0,552.0H307.5" stroke="#1b1b1b" stroke-width="2.00"/>
<path d="M300.0,490.8H307.5" stroke="#1b1b1b" stroke-width="2.00"/>
<path d="M299.0,613.1H307.5" stroke="#1b1b1b" stroke-width="2.00"/>
<path d="M332.1,613.1V621.1" stroke="#1b1b1b" stroke-width="2.00"/>
<path d="M369.2,613.1V621.1" stroke="#1b1b1b" stroke-width="2.00"/>
<path d="M406.1,613.1V621.1" stroke="#1b1b1b" stroke-width="2.00"/>
<text x="297.2" y="618.0" font-size="13.60" font-weight="bold" fill="#1b1b1b" text-anchor="end">0.0</text>
<text x="297.2" y="556.8" font-size="13.60" font-weight="bold" fill="#1b1b1b" text-anchor="end">0.5</text>
<clipPath id="t1c10"><path d="M-10,-10H760V880H-10ZM278.15,493.88H281.42V497.17H278.15ZM283.38,493.88H286.48V497.17H283.38Z" clip-rule="evenodd"/></clipPath>
<text x="297.2" y="495.7" font-size="13.60" font-weight="bold" fill="#1b1b1b" text-anchor="end" clip-path="url(#t1c10)">1.0</text>
<clipPath id="t1c11"><path d="M-10,-10H760V880H-10ZM278.15,432.73H281.42V436.02H278.15ZM283.38,432.73H286.48V436.02H283.38Z" clip-rule="evenodd"/></clipPath>
<text x="297.2" y="434.5" font-size="13.60" font-weight="bold" fill="#1b1b1b" text-anchor="end" clip-path="url(#t1c11)">1.5</text>
<clipPath id="t1c12"><path d="M-10,-10H760V880H-10ZM318.66,636.36H321.82V639.20H318.66ZM323.03,636.36H326.09V639.20H323.03Z" clip-rule="evenodd"/></clipPath>
<text x="318.7" y="637.7" font-size="12.60" font-weight="normal" fill="#EE8A2E" text-anchor="start" clip-path="url(#t1c12)">1%</text>
<clipPath id="t1c13"><path d="M-10,-10H760V880H-10ZM356.06,636.36H359.22V639.20H356.06ZM360.43,636.36H363.49V639.20H360.43Z" clip-rule="evenodd"/></clipPath>
<text x="356.1" y="637.7" font-size="12.60" font-weight="normal" fill="#E03A3A" text-anchor="start" clip-path="url(#t1c13)">1.5%</text>
<text x="396.6" y="637.7" font-size="12.60" font-weight="normal" fill="#8A2420" text-anchor="start">2.5%</text>
<text transform="translate(266.4,520.4) rotate(-90)" x="0" y="0" font-size="14.60" font-weight="bold" fill="#1b1b1b" text-anchor="middle" textLength="142.3" lengthAdjust="spacingAndGlyphs">Normalized distance</text>
<circle cx="309.0" cy="490.7" r="1.50" fill="#3C8F2D"/>
<circle cx="317.6" cy="490.7" r="1.50" fill="#3C8F2D"/>
<circle cx="326.1" cy="490.7" r="1.50" fill="#3C8F2D"/>
<circle cx="334.7" cy="490.7" r="1.50" fill="#3C8F2D"/>
<circle cx="343.2" cy="490.7" r="1.50" fill="#3C8F2D"/>
<circle cx="351.8" cy="490.7" r="1.50" fill="#3C8F2D"/>
<circle cx="360.3" cy="490.7" r="1.50" fill="#3C8F2D"/>
<circle cx="368.9" cy="490.7" r="1.50" fill="#3C8F2D"/>
<circle cx="377.4" cy="490.7" r="1.50" fill="#3C8F2D"/>
<circle cx="386.0" cy="490.7" r="1.50" fill="#3C8F2D"/>
<circle cx="394.5" cy="490.7" r="1.50" fill="#3C8F2D"/>
<circle cx="403.1" cy="490.7" r="1.50" fill="#3C8F2D"/>
<circle cx="411.6" cy="490.7" r="1.50" fill="#3C8F2D"/>
<circle cx="420.2" cy="490.7" r="1.50" fill="#3C8F2D"/>
<text x="426.8" y="494.5" font-size="11.50" font-weight="bold" fill="#3C8F2D" text-anchor="start" textLength="30.5" lengthAdjust="spacingAndGlyphs">CTRL</text>
<path d="M333.4,385.1H403.5" stroke="#1b1b1b" stroke-width="2.00"/>
<path d="M355.50,372.40L355.50,378.40M352.90,373.90L358.10,376.90M358.10,373.90L352.90,376.90M363.23,372.40L363.23,378.40M360.64,373.90L365.83,376.90M365.83,373.90L360.64,376.90M370.97,372.40L370.97,378.40M368.37,373.90L373.56,376.90M373.56,373.90L368.37,376.90M378.70,372.40L378.70,378.40M376.10,373.90L381.30,376.90M381.30,373.90L376.10,376.90" stroke="#1a1a1a" stroke-width="1.45" stroke-linecap="butt" fill="none"/>
<path d="M324.4,417.1H359.5" stroke="#1b1b1b" stroke-width="2.00"/>
<text x="341.8" y="409.6" font-size="11.00" font-weight="normal" fill="#2a2a2a" text-anchor="middle">ns</text>
<path d="M380.0,417.1H416.4" stroke="#1b1b1b" stroke-width="2.00"/>
<path d="M384.30,404.70L384.30,410.70M381.70,406.20L386.90,409.20M386.90,406.20L381.70,409.20M392.03,404.70L392.03,410.70M389.44,406.20L394.63,409.20M394.63,406.20L389.44,409.20M399.77,404.70L399.77,410.70M397.17,406.20L402.36,409.20M402.36,406.20L397.17,409.20M407.50,404.70L407.50,410.70M404.90,406.20L410.10,409.20M410.10,406.20L404.90,409.20" stroke="#1a1a1a" stroke-width="1.45" stroke-linecap="butt" fill="none"/>
<text x="331.4" y="436.6" font-size="11.00" font-weight="normal" fill="#2a2a2a" text-anchor="middle">ns</text>
<text x="368.8" y="436.6" font-size="11.00" font-weight="normal" fill="#2a2a2a" text-anchor="middle">ns</text>
<path d="M394.40,432.50L394.40,438.50M391.80,434.00L397.00,437.00M397.00,434.00L391.80,437.00M402.13,432.50L402.13,438.50M399.54,434.00L404.73,437.00M404.73,434.00L399.54,437.00M409.87,432.50L409.87,438.50M407.27,434.00L412.46,437.00M412.46,434.00L407.27,437.00M417.60,432.50L417.60,438.50M415.00,434.00L420.20,437.00M420.20,434.00L415.00,437.00" stroke="#1a1a1a" stroke-width="1.45" stroke-linecap="butt" fill="none"/>
<path d="M579.0,611.0V484.3H601.4V611.0" fill="none" stroke="#EA7E1F" stroke-width="2.60" stroke-linejoin="miter"/>
<path d="M617.0,611.0V489.5H639.4V611.0" fill="none" stroke="#D9281F" stroke-width="2.60" stroke-linejoin="miter"/>
<path d="M655.4,611.0V490.6H677.8V611.0" fill="none" stroke="#7C150B" stroke-width="2.60" stroke-linejoin="miter"/>
<circle cx="590.1" cy="440.1" r="3.00" fill="#EA7E1F"/>
<circle cx="589.3" cy="451.3" r="3.00" fill="#EA7E1F"/>
<circle cx="591.3" cy="457.6" r="3.00" fill="#EA7E1F"/>
<circle cx="594.2" cy="461.1" r="3.00" fill="#EA7E1F"/>
<circle cx="588.4" cy="464.0" r="3.00" fill="#EA7E1F"/>
<circle cx="592.4" cy="465.1" r="3.00" fill="#EA7E1F"/>
<circle cx="586.1" cy="468.0" r="3.00" fill="#EA7E1F"/>
<circle cx="590.1" cy="470.3" r="3.00" fill="#EA7E1F"/>
<circle cx="585.5" cy="473.2" r="3.00" fill="#EA7E1F"/>
<circle cx="592.4" cy="474.3" r="3.00" fill="#EA7E1F"/>
<circle cx="588.4" cy="476.6" r="3.00" fill="#EA7E1F"/>
<circle cx="594.8" cy="478.4" r="3.00" fill="#EA7E1F"/>
<circle cx="585.0" cy="481.2" r="3.00" fill="#EA7E1F"/>
<circle cx="591.3" cy="480.7" r="3.00" fill="#EA7E1F"/>
<circle cx="596.5" cy="481.8" r="3.00" fill="#EA7E1F"/>
<circle cx="580.4" cy="484.1" r="3.00" fill="#EA7E1F"/>
<circle cx="587.3" cy="484.1" r="3.00" fill="#EA7E1F"/>
<circle cx="599.4" cy="485.3" r="3.00" fill="#EA7E1F"/>
<circle cx="583.8" cy="487.6" r="3.00" fill="#EA7E1F"/>
<circle cx="589.6" cy="488.1" r="3.00" fill="#EA7E1F"/>
<circle cx="595.9" cy="488.7" r="3.00" fill="#EA7E1F"/>
<circle cx="586.1" cy="491.0" r="3.00" fill="#EA7E1F"/>
<circle cx="598.2" cy="491.0" r="3.00" fill="#EA7E1F"/>
<circle cx="585.0" cy="496.2" r="3.00" fill="#EA7E1F"/>
<circle cx="589.6" cy="499.7" r="3.00" fill="#EA7E1F"/>
<circle cx="591.3" cy="505.4" r="3.00" fill="#EA7E1F"/>
<circle cx="587.8" cy="511.2" r="3.00" fill="#EA7E1F"/>
<circle cx="590.1" cy="516.9" r="3.00" fill="#EA7E1F"/>
<circle cx="593.0" cy="518.6" r="3.00" fill="#EA7E1F"/>
<circle cx="628.1" cy="468.0" r="3.00" fill="#D9281F"/>
<circle cx="623.5" cy="470.9" r="3.00" fill="#D9281F"/>
<circle cx="637.4" cy="470.3" r="3.00" fill="#D9281F"/>
<circle cx="619.5" cy="475.5" r="3.00" fill="#D9281F"/>
<circle cx="629.9" cy="473.7" r="3.00" fill="#D9281F"/>
<circle cx="633.3" cy="474.9" r="3.00" fill="#D9281F"/>
<circle cx="626.4" cy="477.2" r="3.00" fill="#D9281F"/>
<circle cx="632.7" cy="479.5" r="3.00" fill="#D9281F"/>
<circle cx="628.1" cy="482.4" r="3.00" fill="#D9281F"/>
<circle cx="620.7" cy="485.3" r="3.00" fill="#D9281F"/>
<circle cx="625.3" cy="487.6" r="3.00" fill="#D9281F"/>
<circle cx="634.5" cy="484.1" r="3.00" fill="#D9281F"/>
<circle cx="637.9" cy="487.6" r="3.00" fill="#D9281F"/>
<circle cx="629.9" cy="490.4" r="3.00" fill="#D9281F"/>
<circle cx="634.5" cy="492.2" r="3.00" fill="#D9281F"/>
<circle cx="635.6" cy="496.8" r="3.00" fill="#D9281F"/>
<circle cx="623.5" cy="503.7" r="3.00" fill="#D9281F"/>
<circle cx="628.7" cy="503.7" r="3.00" fill="#D9281F"/>
<circle cx="625.3" cy="506.6" r="3.00" fill="#D9281F"/>
<circle cx="629.9" cy="508.3" r="3.00" fill="#D9281F"/>
<circle cx="632.7" cy="512.3" r="3.00" fill="#D9281F"/>
<circle cx="628.7" cy="531.2" r="3.00" fill="#D9281F"/>
<circle cx="665.3" cy="475.2" r="3.00" fill="#7C150B"/>
<circle cx="669.4" cy="476.2" r="3.00" fill="#7C150B"/>
<circle cx="662.5" cy="477.3" r="3.00" fill="#7C150B"/>
<circle cx="658.4" cy="482.1" r="3.00" fill="#7C150B"/>
<circle cx="665.3" cy="481.5" r="3.00" fill="#7C150B"/>
<circle cx="672.2" cy="481.5" r="3.00" fill="#7C150B"/>
<circle cx="676.3" cy="482.8" r="3.00" fill="#7C150B"/>
<circle cx="657.0" cy="485.6" r="3.00" fill="#7C150B"/>
<circle cx="662.5" cy="486.3" r="3.00" fill="#7C150B"/>
<circle cx="668.0" cy="485.6" r="3.00" fill="#7C150B"/>
<circle cx="675.0" cy="486.3" r="3.00" fill="#7C150B"/>
<circle cx="659.7" cy="489.0" r="3.00" fill="#7C150B"/>
<circle cx="666.6" cy="489.7" r="3.00" fill="#7C150B"/>
<circle cx="672.9" cy="489.0" r="3.00" fill="#7C150B"/>
<circle cx="666.6" cy="493.2" r="3.00" fill="#7C150B"/>
<circle cx="664.6" cy="495.3" r="3.00" fill="#7C150B"/>
<circle cx="669.4" cy="496.6" r="3.00" fill="#7C150B"/>
<circle cx="666.6" cy="507.0" r="3.00" fill="#7C150B"/>
<circle cx="667.3" cy="514.6" r="3.00" fill="#7C150B"/>
<circle cx="666.6" cy="531.2" r="3.00" fill="#7C150B"/>
<path d="M590.2,469.0V499.7M584.0,469.0H596.5M584.0,499.7H596.5" stroke="#EA7E1F" stroke-width="1.3" fill="none"/>
<path d="M628.2,477.0V502.5M622.0,477.0H634.5M622.0,502.5H634.5" stroke="#D9281F" stroke-width="1.3" fill="none"/>
<path d="M666.6,479.0V501.2M660.4,479.0H672.9M660.4,501.2H672.9" stroke="#7C150B" stroke-width="1.3" fill="none"/>
<path d="M557.0,427.0H565.0V611.0H692.6" fill="none" stroke="#1b1b1b" stroke-width="2.00" stroke-linejoin="miter"/>
<path d="M557.0,611.0H565.0" stroke="#1b1b1b" stroke-width="2.00"/>
<path d="M557.0,549.7H565.0" stroke="#1b1b1b" stroke-width="2.00"/>
<path d="M557.0,488.3H565.0" stroke="#1b1b1b" stroke-width="2.00"/>
<path d="M556.0,611.0H565.0" stroke="#1b1b1b" stroke-width="2.00"/>
<path d="M590.2,611.0V619.0" stroke="#1b1b1b" stroke-width="2.00"/>
<path d="M628.2,611.0V619.0" stroke="#1b1b1b" stroke-width="2.00"/>
<path d="M666.6,611.0V619.0" stroke="#1b1b1b" stroke-width="2.00"/>
<text x="554.5" y="615.9" font-size="13.70" font-weight="bold" fill="#1b1b1b" text-anchor="end">0.0</text>
<text x="554.5" y="554.6" font-size="13.70" font-weight="bold" fill="#1b1b1b" text-anchor="end">0.5</text>
<clipPath id="t1c14"><path d="M-10,-10H760V880H-10ZM535.32,491.44H538.60V494.74H535.32ZM540.58,491.44H543.69V494.74H540.58Z" clip-rule="evenodd"/></clipPath>
<text x="554.5" y="493.2" font-size="13.70" font-weight="bold" fill="#1b1b1b" text-anchor="end" clip-path="url(#t1c14)">1.0</text>
<clipPath id="t1c15"><path d="M-10,-10H760V880H-10ZM535.32,430.11H538.60V433.40H535.32ZM540.58,430.11H543.69V433.40H540.58Z" clip-rule="evenodd"/></clipPath>
<text x="554.5" y="431.9" font-size="13.70" font-weight="bold" fill="#1b1b1b" text-anchor="end" clip-path="url(#t1c15)">1.5</text>
<clipPath id="t1c16"><path d="M-10,-10H760V880H-10ZM582.94,634.33H586.17V637.20H582.94ZM587.42,634.33H590.55V637.20H587.42Z" clip-rule="evenodd"/></clipPath>
<text x="583.0" y="635.7" font-size="13.00" font-weight="normal" fill="#EE8A2E" text-anchor="start" clip-path="url(#t1c16)">1%</text>
<clipPath id="t1c17"><path d="M-10,-10H760V880H-10ZM615.54,634.33H618.77V637.20H615.54ZM620.02,634.33H623.15V637.20H620.02Z" clip-rule="evenodd"/></clipPath>
<text x="615.5" y="635.7" font-size="13.00" font-weight="normal" fill="#E03A3A" text-anchor="start" clip-path="url(#t1c17)">1.5%</text>
<text x="654.5" y="635.7" font-size="13.00" font-weight="normal" fill="#8A2420" text-anchor="start">2.5%</text>
<text transform="translate(521.6,519.8) rotate(-90)" x="0" y="0" font-size="14.96" font-weight="bold" fill="#1b1b1b" text-anchor="middle" textLength="128.0" lengthAdjust="spacingAndGlyphs">Normalized speed</text>
<circle cx="566.0" cy="488.5" r="1.50" fill="#3C8F2D"/>
<circle cx="574.6" cy="488.5" r="1.50" fill="#3C8F2D"/>
<circle cx="583.2" cy="488.5" r="1.50" fill="#3C8F2D"/>
<circle cx="591.8" cy="488.5" r="1.50" fill="#3C8F2D"/>
<circle cx="600.4" cy="488.5" r="1.50" fill="#3C8F2D"/>
<circle cx="609.0" cy="488.5" r="1.50" fill="#3C8F2D"/>
<circle cx="617.6" cy="488.5" r="1.50" fill="#3C8F2D"/>
<circle cx="626.2" cy="488.5" r="1.50" fill="#3C8F2D"/>
<circle cx="634.8" cy="488.5" r="1.50" fill="#3C8F2D"/>
<circle cx="643.4" cy="488.5" r="1.50" fill="#3C8F2D"/>
<circle cx="652.0" cy="488.5" r="1.50" fill="#3C8F2D"/>
<circle cx="660.6" cy="488.5" r="1.50" fill="#3C8F2D"/>
<circle cx="669.2" cy="488.5" r="1.50" fill="#3C8F2D"/>
<circle cx="677.8" cy="488.5" r="1.50" fill="#3C8F2D"/>
<text x="692.3" y="492.8" font-size="12.00" font-weight="bold" fill="#3C8F2D" text-anchor="start" textLength="34.6" lengthAdjust="spacingAndGlyphs">CTRL</text>
<path d="M590.9,375.7H665.3" stroke="#1b1b1b" stroke-width="2.00"/>
<text x="627.9" y="367.9" font-size="11.00" font-weight="normal" fill="#2a2a2a" text-anchor="middle">ns</text>
<path d="M577.0,401.0H623.0" stroke="#1b1b1b" stroke-width="2.00"/>
<text x="599.9" y="394.0" font-size="11.00" font-weight="normal" fill="#2a2a2a" text-anchor="middle">ns</text>
<path d="M638.3,401.2H677.4" stroke="#1b1b1b" stroke-width="2.00"/>
<text x="657.8" y="394.0" font-size="11.00" font-weight="normal" fill="#2a2a2a" text-anchor="middle">ns</text>
<text x="589.2" y="430.3" font-size="11.00" font-weight="normal" fill="#2a2a2a" text-anchor="middle">ns</text>
<text x="630.4" y="450.5" font-size="11.00" font-weight="normal" fill="#2a2a2a" text-anchor="middle">ns</text>
<text x="667.3" y="465.0" font-size="11.00" font-weight="normal" fill="#2a2a2a" text-anchor="middle">ns</text>
<path d="M304.4,848.0V773.5H348.6V848.0" fill="none" stroke="#A01D14" stroke-width="2.60" stroke-linejoin="miter"/>
<path d="M374.8,848.0V742.6H418.9V848.0" fill="none" stroke="#A01D14" stroke-width="2.60" stroke-linejoin="miter"/>
<circle cx="323.0" cy="758.8" r="3.30" fill="#A01D14"/>
<circle cx="329.7" cy="759.3" r="3.30" fill="#A01D14"/>
<circle cx="323.0" cy="765.6" r="3.30" fill="#A01D14"/>
<circle cx="329.7" cy="769.2" r="3.30" fill="#A01D14"/>
<circle cx="332.8" cy="770.7" r="3.30" fill="#A01D14"/>
<circle cx="326.1" cy="773.3" r="3.30" fill="#A01D14"/>
<circle cx="345.7" cy="771.3" r="3.30" fill="#A01D14"/>
<circle cx="306.9" cy="775.4" r="3.30" fill="#A01D14"/>
<circle cx="313.1" cy="777.5" r="3.30" fill="#A01D14"/>
<circle cx="319.9" cy="778.0" r="3.30" fill="#A01D14"/>
<circle cx="339.5" cy="779.5" r="3.30" fill="#A01D14"/>
<circle cx="326.6" cy="795.1" r="3.30" fill="#A01D14"/>
<circle cx="378.0" cy="730.0" r="3.30" fill="#A01D14"/>
<circle cx="416.6" cy="729.5" r="3.30" fill="#A01D14"/>
<circle cx="410.1" cy="731.3" r="3.30" fill="#A01D14"/>
<circle cx="382.0" cy="736.0" r="3.30" fill="#A01D14"/>
<circle cx="388.0" cy="734.5" r="3.30" fill="#A01D14"/>
<circle cx="394.0" cy="736.0" r="3.30" fill="#A01D14"/>
<circle cx="400.0" cy="734.5" r="3.30" fill="#A01D14"/>
<circle cx="406.0" cy="736.0" r="3.30" fill="#A01D14"/>
<circle cx="412.0" cy="734.5" r="3.30" fill="#A01D14"/>
<circle cx="385.0" cy="740.0" r="3.30" fill="#A01D14"/>
<circle cx="391.0" cy="741.0" r="3.30" fill="#A01D14"/>
<circle cx="397.0" cy="740.0" r="3.30" fill="#A01D14"/>
<circle cx="403.0" cy="741.0" r="3.30" fill="#A01D14"/>
<circle cx="409.0" cy="740.0" r="3.30" fill="#A01D14"/>
<circle cx="415.0" cy="739.5" r="3.30" fill="#A01D14"/>
<circle cx="380.0" cy="742.0" r="3.30" fill="#A01D14"/>
<circle cx="413.0" cy="744.0" r="3.30" fill="#A01D14"/>
<circle cx="398.9" cy="747.3" r="3.30" fill="#A01D14"/>
<circle cx="407.5" cy="747.8" r="3.30" fill="#A01D14"/>
<circle cx="412.7" cy="748.2" r="3.30" fill="#A01D14"/>
<circle cx="391.0" cy="756.9" r="3.30" fill="#A01D14"/>
<circle cx="398.9" cy="756.9" r="3.30" fill="#A01D14"/>
<circle cx="396.3" cy="763.8" r="3.30" fill="#A01D14"/>
<circle cx="401.5" cy="764.3" r="3.30" fill="#A01D14"/>
<circle cx="396.7" cy="778.6" r="3.30" fill="#A01D14"/>
<path d="M326.5,763.3V782.6M315.0,763.3H338.0M315.0,782.6H338.0" stroke="#A01D14" stroke-width="1.3" fill="none"/>
<path d="M396.8,731.7V752.6M385.3,731.7H408.3M385.3,752.6H408.3" stroke="#A01D14" stroke-width="1.3" fill="none"/>
<path d="M273.4,687.4H280.0V848.0H444.4" fill="none" stroke="#1b1b1b" stroke-width="1.80" stroke-linejoin="miter"/>
<path d="M273.4,848.0H280.0" stroke="#1b1b1b" stroke-width="1.80"/>
<path d="M273.4,794.5H280.0" stroke="#1b1b1b" stroke-width="1.80"/>
<path d="M273.4,740.9H280.0" stroke="#1b1b1b" stroke-width="1.80"/>
<path d="M272.5,848.0H280.0" stroke="#1b1b1b" stroke-width="1.80"/>
<path d="M326.5,848.0V854.0" stroke="#1b1b1b" stroke-width="1.80"/>
<path d="M396.8,848.0V854.0" stroke="#1b1b1b" stroke-width="1.80"/>
<text x="271.1" y="852.3" font-size="12.00" font-weight="bold" fill="#1b1b1b" text-anchor="end">0.0</text>
<text x="271.1" y="798.7" font-size="12.00" font-weight="bold" fill="#1b1b1b" text-anchor="end">0.5</text>
<clipPath id="t1c18"><path d="M-10,-10H760V880H-10ZM254.17,743.57H257.17V746.70H254.17ZM258.92,743.57H261.76V746.70H258.92Z" clip-rule="evenodd"/></clipPath>
<text x="271.1" y="745.2" font-size="12.00" font-weight="bold" fill="#1b1b1b" text-anchor="end" clip-path="url(#t1c18)">1.0</text>
<clipPath id="t1c19"><path d="M-10,-10H760V880H-10ZM254.17,690.02H257.17V693.15H254.17ZM258.92,690.02H261.76V693.15H258.92Z" clip-rule="evenodd"/></clipPath>
<text x="271.1" y="691.6" font-size="12.00" font-weight="bold" fill="#1b1b1b" text-anchor="end" clip-path="url(#t1c19)">1.5</text>
<clipPath id="t1c20"><path d="M-10,-10H760V880H-10ZM329.89,865.64H332.88V868.80H329.89ZM334.63,865.64H337.47V868.80H334.63Z" clip-rule="evenodd"/></clipPath>
<text x="300.2" y="867.3" font-size="12.30" font-weight="bold" fill="#1b1b1b" text-anchor="start" textLength="51.9" lengthAdjust="spacingAndGlyphs" clip-path="url(#t1c20)">MCF-10A</text>
<clipPath id="t1c21"><path d="M-10,-10H760V880H-10ZM427.91,865.64H430.96V868.80H427.91ZM432.75,865.64H435.64V868.80H432.75Z" clip-rule="evenodd"/></clipPath>
<text x="359.1" y="867.3" font-size="12.30" font-weight="bold" fill="#1b1b1b" text-anchor="start" textLength="75.9" lengthAdjust="spacingAndGlyphs" clip-path="url(#t1c21)">MDA-MB-231</text>
<text transform="translate(244.3,766.2) rotate(-90)" x="0" y="0" font-size="13.00" font-weight="bold" fill="#1b1b1b" text-anchor="middle" textLength="111.7" lengthAdjust="spacingAndGlyphs">Normalized speed</text>
<circle cx="284.9" cy="740.5" r="1.40" fill="#3C8F2D"/>
<circle cx="292.1" cy="740.5" r="1.40" fill="#3C8F2D"/>
<circle cx="299.4" cy="740.5" r="1.40" fill="#3C8F2D"/>
<circle cx="306.6" cy="740.5" r="1.40" fill="#3C8F2D"/>
<circle cx="313.9" cy="740.5" r="1.40" fill="#3C8F2D"/>
<circle cx="321.1" cy="740.5" r="1.40" fill="#3C8F2D"/>
<circle cx="328.3" cy="740.5" r="1.40" fill="#3C8F2D"/>
<circle cx="335.6" cy="740.5" r="1.40" fill="#3C8F2D"/>
<circle cx="342.8" cy="740.5" r="1.40" fill="#3C8F2D"/>
<circle cx="350.1" cy="740.5" r="1.40" fill="#3C8F2D"/>
<circle cx="357.3" cy="740.5" r="1.40" fill="#3C8F2D"/>
<circle cx="364.5" cy="740.5" r="1.40" fill="#3C8F2D"/>
<circle cx="371.8" cy="740.5" r="1.40" fill="#3C8F2D"/>
<circle cx="379.0" cy="740.5" r="1.40" fill="#3C8F2D"/>
<circle cx="386.3" cy="740.5" r="1.40" fill="#3C8F2D"/>
<circle cx="393.5" cy="740.5" r="1.40" fill="#3C8F2D"/>
<circle cx="400.7" cy="740.5" r="1.40" fill="#3C8F2D"/>
<circle cx="408.0" cy="740.5" r="1.40" fill="#3C8F2D"/>
<circle cx="415.2" cy="740.5" r="1.40" fill="#3C8F2D"/>
<circle cx="422.5" cy="740.5" r="1.40" fill="#3C8F2D"/>
<circle cx="429.7" cy="740.5" r="1.40" fill="#3C8F2D"/>
<circle cx="436.9" cy="740.5" r="1.40" fill="#3C8F2D"/>
<text x="447.9" y="744.8" font-size="10.60" font-weight="bold" fill="#3C8F2D" text-anchor="start" textLength="27.3" lengthAdjust="spacingAndGlyphs">CTRL</text>
<path d="M323.8,709.4H399.2" stroke="#1b1b1b" stroke-width="2.20"/>
<path d="M348.10,695.80L348.10,703.20M344.90,697.65L351.30,701.35M351.30,697.65L344.90,701.35M357.27,695.80L357.27,703.20M354.06,697.65L360.47,701.35M360.47,697.65L354.06,701.35M366.43,695.80L366.43,703.20M363.23,697.65L369.64,701.35M369.64,697.65L363.23,701.35M375.60,695.80L375.60,703.20M372.40,697.65L378.80,701.35M378.80,697.65L372.40,701.35" stroke="#1a1a1a" stroke-width="1.70" stroke-linecap="butt" fill="none"/>
<path d="M578.5,846.9V792.6H626.0V846.9" fill="none" stroke="#A01D14" stroke-width="2.60" stroke-linejoin="miter"/>
<path d="M653.8,846.9V759.0H701.2V846.9" fill="none" stroke="#A01D14" stroke-width="2.60" stroke-linejoin="miter"/>
<circle cx="598.0" cy="774.5" r="3.30" fill="#A01D14"/>
<circle cx="606.4" cy="781.5" r="3.30" fill="#A01D14"/>
<circle cx="598.0" cy="787.6" r="3.30" fill="#A01D14"/>
<circle cx="606.4" cy="790.4" r="3.30" fill="#A01D14"/>
<circle cx="614.4" cy="791.8" r="3.30" fill="#A01D14"/>
<circle cx="622.8" cy="793.2" r="3.30" fill="#A01D14"/>
<circle cx="581.2" cy="796.0" r="3.30" fill="#A01D14"/>
<circle cx="589.6" cy="795.0" r="3.30" fill="#A01D14"/>
<circle cx="598.0" cy="796.4" r="3.30" fill="#A01D14"/>
<circle cx="606.4" cy="797.9" r="3.30" fill="#A01D14"/>
<circle cx="614.9" cy="805.3" r="3.30" fill="#A01D14"/>
<circle cx="679.7" cy="734.5" r="3.30" fill="#A01D14"/>
<circle cx="675.8" cy="741.0" r="3.30" fill="#A01D14"/>
<circle cx="682.4" cy="743.7" r="3.30" fill="#A01D14"/>
<circle cx="669.3" cy="748.4" r="3.30" fill="#A01D14"/>
<circle cx="675.8" cy="747.5" r="3.30" fill="#A01D14"/>
<circle cx="684.3" cy="749.3" r="3.30" fill="#A01D14"/>
<circle cx="688.0" cy="754.0" r="3.30" fill="#A01D14"/>
<circle cx="659.0" cy="755.0" r="3.30" fill="#A01D14"/>
<circle cx="673.0" cy="754.0" r="3.30" fill="#A01D14"/>
<circle cx="680.5" cy="755.0" r="3.30" fill="#A01D14"/>
<circle cx="656.2" cy="760.6" r="3.30" fill="#A01D14"/>
<circle cx="663.7" cy="762.4" r="3.30" fill="#A01D14"/>
<circle cx="670.2" cy="761.5" r="3.30" fill="#A01D14"/>
<circle cx="676.8" cy="760.6" r="3.30" fill="#A01D14"/>
<circle cx="684.3" cy="761.5" r="3.30" fill="#A01D14"/>
<circle cx="689.9" cy="761.5" r="3.30" fill="#A01D14"/>
<circle cx="695.5" cy="760.6" r="3.30" fill="#A01D14"/>
<circle cx="699.2" cy="762.4" r="3.30" fill="#A01D14"/>
<circle cx="674.9" cy="764.3" r="3.30" fill="#A01D14"/>
<circle cx="682.4" cy="766.2" r="3.30" fill="#A01D14"/>
<circle cx="671.2" cy="769.9" r="3.30" fill="#A01D14"/>
<circle cx="674.0" cy="770.8" r="3.30" fill="#A01D14"/>
<circle cx="681.9" cy="773.6" r="3.30" fill="#A01D14"/>
<circle cx="677.2" cy="794.7" r="3.30" fill="#A01D14"/>
<circle cx="666.0" cy="756.0" r="3.30" fill="#A01D14"/>
<circle cx="686.0" cy="757.0" r="3.30" fill="#A01D14"/>
<circle cx="678.0" cy="752.0" r="3.30" fill="#A01D14"/>
<circle cx="692.0" cy="758.0" r="3.30" fill="#A01D14"/>
<path d="M602.2,784.5V800.4M590.2,784.5H614.2M590.2,800.4H614.2" stroke="#A01D14" stroke-width="1.3" fill="none"/>
<path d="M677.5,748.4V769.2M665.5,748.4H689.5M665.5,769.2H689.5" stroke="#A01D14" stroke-width="1.3" fill="none"/>
<path d="M545.7,688.5H552.1V846.9H728.2" fill="none" stroke="#1b1b1b" stroke-width="1.80" stroke-linejoin="miter"/>
<path d="M545.7,846.9H552.1" stroke="#1b1b1b" stroke-width="1.80"/>
<path d="M545.7,794.1H552.1" stroke="#1b1b1b" stroke-width="1.80"/>
<path d="M545.7,741.3H552.1" stroke="#1b1b1b" stroke-width="1.80"/>
<path d="M544.8,846.9H552.1" stroke="#1b1b1b" stroke-width="1.80"/>
<path d="M602.2,846.9V852.9" stroke="#1b1b1b" stroke-width="1.80"/>
<path d="M677.5,846.9V852.9" stroke="#1b1b1b" stroke-width="1.80"/>
<text x="543.5" y="851.2" font-size="12.00" font-weight="bold" fill="#1b1b1b" text-anchor="end">0.0</text>
<text x="543.5" y="798.4" font-size="12.00" font-weight="bold" fill="#1b1b1b" text-anchor="end">0.5</text>
<clipPath id="t1c22"><path d="M-10,-10H760V880H-10ZM526.57,744.00H529.57V747.13H526.57ZM531.32,744.00H534.16V747.13H531.32Z" clip-rule="evenodd"/></clipPath>
<text x="543.5" y="745.6" font-size="12.00" font-weight="bold" fill="#1b1b1b" text-anchor="end" clip-path="url(#t1c22)">1.0</text>
<clipPath id="t1c23"><path d="M-10,-10H760V880H-10ZM526.57,691.22H529.57V694.35H526.57ZM531.32,691.22H534.16V694.35H531.32Z" clip-rule="evenodd"/></clipPath>
<text x="543.5" y="692.8" font-size="12.00" font-weight="bold" fill="#1b1b1b" text-anchor="end" clip-path="url(#t1c23)">1.5</text>
<clipPath id="t1c24"><path d="M-10,-10H760V880H-10ZM605.66,864.54H608.62V867.70H605.66ZM610.33,864.54H613.14V867.70H610.33Z" clip-rule="evenodd"/></clipPath>
<text x="576.5" y="866.2" font-size="12.30" font-weight="bold" fill="#1b1b1b" text-anchor="start" textLength="51.0" lengthAdjust="spacingAndGlyphs" clip-path="url(#t1c24)">MCF-10A</text>
<clipPath id="t1c25"><path d="M-10,-10H760V880H-10ZM708.47,864.54H711.48V867.70H708.47ZM713.25,864.54H716.11V867.70H713.25Z" clip-rule="evenodd"/></clipPath>
<text x="640.6" y="866.2" font-size="12.30" font-weight="bold" fill="#1b1b1b" text-anchor="start" textLength="74.9" lengthAdjust="spacingAndGlyphs" clip-path="url(#t1c25)">MDA-MB-231</text>
<text transform="translate(519.2,767.5) rotate(-90)" x="0" y="0" font-size="12.90" font-weight="bold" fill="#1b1b1b" text-anchor="middle" textLength="125.7" lengthAdjust="spacingAndGlyphs">Normalized distance</text>
<circle cx="561.0" cy="741.3" r="1.40" fill="#3C8F2D"/>
<circle cx="568.1" cy="741.3" r="1.40" fill="#3C8F2D"/>
<circle cx="575.3" cy="741.3" r="1.40" fill="#3C8F2D"/>
<circle cx="582.4" cy="741.3" r="1.40" fill="#3C8F2D"/>
<circle cx="589.6" cy="741.3" r="1.40" fill="#3C8F2D"/>
<circle cx="596.7" cy="741.3" r="1.40" fill="#3C8F2D"/>
<circle cx="603.9" cy="741.3" r="1.40" fill="#3C8F2D"/>
<circle cx="611.0" cy="741.3" r="1.40" fill="#3C8F2D"/>
<circle cx="618.2" cy="741.3" r="1.40" fill="#3C8F2D"/>
<circle cx="625.3" cy="741.3" r="1.40" fill="#3C8F2D"/>
<circle cx="632.5" cy="741.3" r="1.40" fill="#3C8F2D"/>
<circle cx="639.6" cy="741.3" r="1.40" fill="#3C8F2D"/>
<circle cx="646.8" cy="741.3" r="1.40" fill="#3C8F2D"/>
<circle cx="653.9" cy="741.3" r="1.40" fill="#3C8F2D"/>
<circle cx="661.1" cy="741.3" r="1.40" fill="#3C8F2D"/>
<circle cx="668.2" cy="741.3" r="1.40" fill="#3C8F2D"/>
<circle cx="675.4" cy="741.3" r="1.40" fill="#3C8F2D"/>
<circle cx="682.5" cy="741.3" r="1.40" fill="#3C8F2D"/>
<circle cx="689.7" cy="741.3" r="1.40" fill="#3C8F2D"/>
<circle cx="696.8" cy="741.3" r="1.40" fill="#3C8F2D"/>
<circle cx="704.0" cy="741.3" r="1.40" fill="#3C8F2D"/>
<circle cx="711.1" cy="741.3" r="1.40" fill="#3C8F2D"/>
<circle cx="718.3" cy="741.3" r="1.40" fill="#3C8F2D"/>
<text x="721.6" y="745.3" font-size="10.60" font-weight="bold" fill="#3C8F2D" text-anchor="start" textLength="27.6" lengthAdjust="spacingAndGlyphs">CTRL</text>
<path d="M595.7,721.9H683.7" stroke="#1b1b1b" stroke-width="2.20"/>
<path d="M627.40,708.90L627.40,716.30M624.20,710.75L630.60,714.45M630.60,710.75L624.20,714.45M636.07,708.90L636.07,716.30M632.86,710.75L639.27,714.45M639.27,710.75L632.86,714.45M644.73,708.90L644.73,716.30M641.53,710.75L647.94,714.45M647.94,710.75L641.53,714.45M653.40,708.90L653.40,716.30M650.20,710.75L656.60,714.45M656.60,710.75L650.20,714.45" stroke="#1a1a1a" stroke-width="1.70" stroke-linecap="butt" fill="none"/>
<text x="0.9" y="128.1" font-size="28.00" font-weight="normal" fill="#000" text-anchor="start">A</text>
<text x="228.1" y="127.5" font-size="28.00" font-weight="normal" fill="#000" text-anchor="start">B</text>
<text x="477.4" y="127.5" font-size="28.00" font-weight="normal" fill="#000" text-anchor="start">C</text>
<text x="0.8" y="369.0" font-size="28.00" font-weight="normal" fill="#000" text-anchor="start">D</text>
<text x="228.4" y="369.1" font-size="28.00" font-weight="normal" fill="#000" text-anchor="start">E</text>
<text x="475.5" y="369.1" font-size="28.00" font-weight="normal" fill="#000" text-anchor="start">F</text>
<text x="226.8" y="669.4" font-size="28.00" font-weight="normal" fill="#000" text-anchor="start">G</text>
<text x="477.7" y="666.2" font-size="28.00" font-weight="normal" fill="#000" text-anchor="start">H</text>
<clipPath id="t1c26"><path d="M-10,-10H760V880H-10ZM95.13,132.31H98.91V135.40H95.13ZM100.43,132.31H104.09V135.40H100.43Z" clip-rule="evenodd"/></clipPath>
<text x="54.6" y="133.9" font-size="15.90" font-weight="normal" fill="#000" text-anchor="start" textLength="69.0" lengthAdjust="spacingAndGlyphs" clip-path="url(#t1c26)">MCF-10A</text>
<clipPath id="t1c27"><path d="M-10,-10H760V880H-10ZM143.03,380.05H146.85V383.10H143.03ZM148.40,380.05H152.10V383.10H148.40Z" clip-rule="evenodd"/></clipPath>
<text x="52.6" y="381.6" font-size="15.40" font-weight="normal" fill="#000" text-anchor="start" textLength="99.3" lengthAdjust="spacingAndGlyphs" clip-path="url(#t1c27)">MDA-MB-231</text>
<path d="M199,250H220.7V242.3L228,257.9L220.7,273.7V265.7H199Z" fill="#000"/>
<path d="M207.9,495.1H229.3V487.2L237,503L229.3,518.9V510.9H207.9Z" fill="#000"/>
<defs><clipPath id="cA"><rect x="3.0" y="147.0" width="191.0" height="186.5"/></clipPath>
<filter id="bA3" x="-20%" y="-20%" width="140%" height="140%"><feGaussianBlur stdDeviation="6"/></filter>
<mask id="colA" maskUnits="userSpaceOnUse" x="0" y="140" width="200" height="200"><path d="M10,172 C40,150 110,150 140,162 C148,190 150,230 160,270 C166,290 170,300 170,308 C150,312 100,310 60,305 C35,300 8,290 5,250 C4,215 5,190 10,172Z" fill="#fff" filter="url(#bA3)"/></mask>
<linearGradient id="gA" x1="0" y1="0" x2="1" y2="0"><stop offset="0" stop-color="#949494"/><stop offset="0.2" stop-color="#a1a1a1"/><stop offset="0.45" stop-color="#aeaeae"/><stop offset="0.7" stop-color="#b7b7b7"/><stop offset="0.85" stop-color="#bdbdbd"/><stop offset="1" stop-color="#c0c0c0"/></linearGradient>
<filter id="bA" x="-20%" y="-20%" width="140%" height="140%"><feGaussianBlur stdDeviation="0.6"/></filter>
<filter id="bA2" x="-50%" y="-50%" width="200%" height="200%"><feGaussianBlur stdDeviation="2"/></filter>
<filter id="nAW" x="0" y="0" width="100%" height="100%"><feTurbulence type="fractalNoise" baseFrequency="0.400" numOctaves="2" seed="7"/><feGaussianBlur stdDeviation="0.6"/><feColorMatrix type="matrix" values="0 0 0 0 1  0 0 0 0 1  0 0 0 0 1  0.42 0 0 0 -0.21"/></filter>
<filter id="nAB" x="0" y="0" width="100%" height="100%"><feTurbulence type="fractalNoise" baseFrequency="0.400" numOctaves="2" seed="7"/><feGaussianBlur stdDeviation="0.6"/><feColorMatrix type="matrix" values="0 0 0 0 0  0 0 0 0 0  0 0 0 0 0  -0.42 0 0 0 0.21"/></filter>
</defs>
<g clip-path="url(#cA)">
<rect x="3.0" y="147.0" width="191.0" height="186.5" fill="url(#gA)"/>
<g mask="url(#colA)"><rect x="3" y="147" width="191" height="187" filter="url(#nAW)"/><rect x="3" y="147" width="191" height="187" filter="url(#nAB)"/></g>
<ellipse cx="40.5" cy="168.5" rx="6.5" ry="3.0" fill="#202020" fill-opacity="0.6" transform="rotate(25 40.5 168.5)" filter="url(#bA2)"/>
<ellipse cx="54" cy="168" rx="6" ry="3.5" fill="#fff" fill-opacity="0.18" transform="rotate(-15 54 168)" filter="url(#bA2)"/>
<g filter="url(#bA)"><ellipse cx="67.5" cy="160.6" rx="6.7" ry="5.2" fill="none" stroke="#000" stroke-opacity="0.09" stroke-width="1.2"/><ellipse cx="66.8" cy="159.8" rx="6.0" ry="4.5" fill="#fff" fill-opacity="0.05" stroke="#fff" stroke-opacity="0.28" stroke-width="1.2"/><circle cx="65.0" cy="159.1" r="1.2" fill="#fff" fill-opacity="0.35"/><circle cx="68.6" cy="160.2" r="1.1" fill="#fff" fill-opacity="0.3"/><ellipse cx="29.2" cy="186.1" rx="6.7" ry="6.2" fill="none" stroke="#000" stroke-opacity="0.09" stroke-width="1.2"/><ellipse cx="28.5" cy="185.3" rx="6.0" ry="5.5" fill="#fff" fill-opacity="0.05" stroke="#fff" stroke-opacity="0.28" stroke-width="1.2"/><circle cx="26.7" cy="184.5" r="1.2" fill="#fff" fill-opacity="0.35"/><circle cx="30.3" cy="185.9" r="1.1" fill="#fff" fill-opacity="0.3"/><ellipse cx="99.3" cy="183.5" rx="6.2" ry="5.7" fill="none" stroke="#000" stroke-opacity="0.09" stroke-width="1.2"/><ellipse cx="98.6" cy="182.7" rx="5.5" ry="5.0" fill="#fff" fill-opacity="0.05" stroke="#fff" stroke-opacity="0.28" stroke-width="1.2"/><circle cx="96.9" cy="181.9" r="1.2" fill="#fff" fill-opacity="0.35"/><circle cx="100.2" cy="183.2" r="1.1" fill="#fff" fill-opacity="0.3"/><ellipse cx="80.2" cy="196.3" rx="7.7" ry="7.2" fill="none" stroke="#000" stroke-opacity="0.09" stroke-width="1.2"/><ellipse cx="79.5" cy="195.5" rx="7.0" ry="6.5" fill="#fff" fill-opacity="0.05" stroke="#fff" stroke-opacity="0.28" stroke-width="1.2"/><circle cx="77.4" cy="194.5" r="1.2" fill="#fff" fill-opacity="0.35"/><circle cx="81.6" cy="196.2" r="1.1" fill="#fff" fill-opacity="0.3"/><ellipse cx="128.7" cy="189.9" rx="7.7" ry="6.7" fill="none" stroke="#000" stroke-opacity="0.09" stroke-width="1.2"/><ellipse cx="128.0" cy="189.1" rx="7.0" ry="6.0" fill="#fff" fill-opacity="0.05" stroke="#fff" stroke-opacity="0.28" stroke-width="1.2"/><circle cx="125.9" cy="188.2" r="1.2" fill="#fff" fill-opacity="0.35"/><circle cx="130.1" cy="189.7" r="1.1" fill="#fff" fill-opacity="0.3"/><ellipse cx="44.5" cy="209.0" rx="7.7" ry="7.2" fill="none" stroke="#000" stroke-opacity="0.09" stroke-width="1.2"/><ellipse cx="43.8" cy="208.2" rx="7.0" ry="6.5" fill="#fff" fill-opacity="0.05" stroke="#fff" stroke-opacity="0.28" stroke-width="1.2"/><circle cx="41.7" cy="207.2" r="1.2" fill="#fff" fill-opacity="0.35"/><circle cx="45.9" cy="208.8" r="1.1" fill="#fff" fill-opacity="0.3"/><ellipse cx="91.7" cy="211.6" rx="7.7" ry="7.2" fill="none" stroke="#000" stroke-opacity="0.09" stroke-width="1.2"/><ellipse cx="91.0" cy="210.8" rx="7.0" ry="6.5" fill="#fff" fill-opacity="0.05" stroke="#fff" stroke-opacity="0.28" stroke-width="1.2"/><circle cx="88.9" cy="209.8" r="1.2" fill="#fff" fill-opacity="0.35"/><circle cx="93.1" cy="211.5" r="1.1" fill="#fff" fill-opacity="0.3"/><ellipse cx="115.9" cy="206.5" rx="7.2" ry="6.7" fill="none" stroke="#000" stroke-opacity="0.09" stroke-width="1.2"/><ellipse cx="115.2" cy="205.7" rx="6.5" ry="6.0" fill="#fff" fill-opacity="0.05" stroke="#fff" stroke-opacity="0.28" stroke-width="1.2"/><circle cx="113.2" cy="204.8" r="1.2" fill="#fff" fill-opacity="0.35"/><circle cx="117.2" cy="206.3" r="1.1" fill="#fff" fill-opacity="0.3"/><ellipse cx="132.5" cy="212.8" rx="7.2" ry="6.7" fill="none" stroke="#000" stroke-opacity="0.09" stroke-width="1.2"/><ellipse cx="131.8" cy="212.0" rx="6.5" ry="6.0" fill="#fff" fill-opacity="0.05" stroke="#fff" stroke-opacity="0.28" stroke-width="1.2"/><circle cx="129.9" cy="211.1" r="1.2" fill="#fff" fill-opacity="0.35"/><circle cx="133.8" cy="212.6" r="1.1" fill="#fff" fill-opacity="0.3"/><ellipse cx="19.0" cy="232.0" rx="8.7" ry="8.2" fill="none" stroke="#000" stroke-opacity="0.09" stroke-width="1.2"/><ellipse cx="18.3" cy="231.2" rx="8.0" ry="7.5" fill="#fff" fill-opacity="0.05" stroke="#fff" stroke-opacity="0.28" stroke-width="1.2"/><circle cx="15.9" cy="230.1" r="1.2" fill="#fff" fill-opacity="0.35"/><circle cx="20.7" cy="231.9" r="1.1" fill="#fff" fill-opacity="0.3"/><ellipse cx="78.9" cy="229.3" rx="8.7" ry="10.2" fill="none" stroke="#000" stroke-opacity="0.09" stroke-width="1.2"/><ellipse cx="78.2" cy="228.5" rx="8.0" ry="9.5" fill="#fff" fill-opacity="0.05" stroke="#fff" stroke-opacity="0.28" stroke-width="1.2"/><circle cx="75.8" cy="227.1" r="1.2" fill="#fff" fill-opacity="0.35"/><circle cx="80.6" cy="229.4" r="1.1" fill="#fff" fill-opacity="0.3"/><ellipse cx="115.9" cy="234.5" rx="7.7" ry="7.2" fill="none" stroke="#000" stroke-opacity="0.09" stroke-width="1.2"/><ellipse cx="115.2" cy="233.7" rx="7.0" ry="6.5" fill="#fff" fill-opacity="0.05" stroke="#fff" stroke-opacity="0.28" stroke-width="1.2"/><circle cx="113.1" cy="232.7" r="1.2" fill="#fff" fill-opacity="0.35"/><circle cx="117.3" cy="234.3" r="1.1" fill="#fff" fill-opacity="0.3"/><ellipse cx="40.7" cy="247.3" rx="7.7" ry="7.7" fill="none" stroke="#000" stroke-opacity="0.09" stroke-width="1.2"/><ellipse cx="40.0" cy="246.5" rx="7.0" ry="7.0" fill="#fff" fill-opacity="0.05" stroke="#fff" stroke-opacity="0.28" stroke-width="1.2"/><circle cx="37.9" cy="245.4" r="1.2" fill="#fff" fill-opacity="0.35"/><circle cx="42.1" cy="247.2" r="1.1" fill="#fff" fill-opacity="0.3"/><ellipse cx="56.0" cy="252.4" rx="7.2" ry="6.7" fill="none" stroke="#000" stroke-opacity="0.09" stroke-width="1.2"/><ellipse cx="55.3" cy="251.6" rx="6.5" ry="6.0" fill="#fff" fill-opacity="0.05" stroke="#fff" stroke-opacity="0.28" stroke-width="1.2"/><circle cx="53.3" cy="250.7" r="1.2" fill="#fff" fill-opacity="0.35"/><circle cx="57.2" cy="252.2" r="1.1" fill="#fff" fill-opacity="0.3"/><ellipse cx="70.0" cy="260.0" rx="7.2" ry="6.7" fill="none" stroke="#000" stroke-opacity="0.09" stroke-width="1.2"/><ellipse cx="69.3" cy="259.2" rx="6.5" ry="6.0" fill="#fff" fill-opacity="0.05" stroke="#fff" stroke-opacity="0.28" stroke-width="1.2"/><circle cx="67.3" cy="258.3" r="1.2" fill="#fff" fill-opacity="0.35"/><circle cx="71.2" cy="259.8" r="1.1" fill="#fff" fill-opacity="0.3"/><ellipse cx="93.0" cy="262.6" rx="7.2" ry="6.7" fill="none" stroke="#000" stroke-opacity="0.09" stroke-width="1.2"/><ellipse cx="92.3" cy="261.8" rx="6.5" ry="6.0" fill="#fff" fill-opacity="0.05" stroke="#fff" stroke-opacity="0.28" stroke-width="1.2"/><circle cx="90.3" cy="260.9" r="1.2" fill="#fff" fill-opacity="0.35"/><circle cx="94.2" cy="262.4" r="1.1" fill="#fff" fill-opacity="0.3"/><ellipse cx="129.9" cy="248.5" rx="8.7" ry="9.7" fill="none" stroke="#000" stroke-opacity="0.09" stroke-width="1.2"/><ellipse cx="129.2" cy="247.7" rx="8.0" ry="9.0" fill="#fff" fill-opacity="0.05" stroke="#fff" stroke-opacity="0.28" stroke-width="1.2"/><circle cx="126.8" cy="246.3" r="1.2" fill="#fff" fill-opacity="0.35"/><circle cx="131.6" cy="248.6" r="1.1" fill="#fff" fill-opacity="0.3"/><ellipse cx="34.3" cy="265.1" rx="7.2" ry="6.7" fill="none" stroke="#000" stroke-opacity="0.09" stroke-width="1.2"/><ellipse cx="33.6" cy="264.3" rx="6.5" ry="6.0" fill="#fff" fill-opacity="0.05" stroke="#fff" stroke-opacity="0.28" stroke-width="1.2"/><circle cx="31.7" cy="263.4" r="1.2" fill="#fff" fill-opacity="0.35"/><circle cx="35.6" cy="264.9" r="1.1" fill="#fff" fill-opacity="0.3"/><ellipse cx="104.4" cy="283.0" rx="7.7" ry="7.7" fill="none" stroke="#000" stroke-opacity="0.09" stroke-width="1.2"/><ellipse cx="103.7" cy="282.2" rx="7.0" ry="7.0" fill="#fff" fill-opacity="0.05" stroke="#fff" stroke-opacity="0.28" stroke-width="1.2"/><circle cx="101.6" cy="281.1" r="1.2" fill="#fff" fill-opacity="0.35"/><circle cx="105.8" cy="282.9" r="1.1" fill="#fff" fill-opacity="0.3"/><ellipse cx="127.4" cy="285.5" rx="8.7" ry="7.7" fill="none" stroke="#000" stroke-opacity="0.09" stroke-width="1.2"/><ellipse cx="126.7" cy="284.7" rx="8.0" ry="7.0" fill="#fff" fill-opacity="0.05" stroke="#fff" stroke-opacity="0.28" stroke-width="1.2"/><circle cx="124.3" cy="283.6" r="1.2" fill="#fff" fill-opacity="0.35"/><circle cx="129.1" cy="285.4" r="1.1" fill="#fff" fill-opacity="0.3"/><ellipse cx="146.5" cy="293.2" rx="6.2" ry="5.7" fill="none" stroke="#000" stroke-opacity="0.09" stroke-width="1.2"/><ellipse cx="145.8" cy="292.4" rx="5.5" ry="5.0" fill="#fff" fill-opacity="0.05" stroke="#fff" stroke-opacity="0.28" stroke-width="1.2"/><circle cx="144.2" cy="291.6" r="1.2" fill="#fff" fill-opacity="0.35"/><circle cx="147.5" cy="292.9" r="1.1" fill="#fff" fill-opacity="0.3"/><ellipse cx="151.6" cy="300.8" rx="6.2" ry="6.2" fill="none" stroke="#000" stroke-opacity="0.09" stroke-width="1.2"/><ellipse cx="150.9" cy="300.0" rx="5.5" ry="5.5" fill="#fff" fill-opacity="0.05" stroke="#fff" stroke-opacity="0.28" stroke-width="1.2"/><circle cx="149.2" cy="299.2" r="1.2" fill="#fff" fill-opacity="0.35"/><circle cx="152.6" cy="300.6" r="1.1" fill="#fff" fill-opacity="0.3"/><ellipse cx="164.4" cy="281.7" rx="7.2" ry="6.7" fill="none" stroke="#000" stroke-opacity="0.09" stroke-width="1.2"/><ellipse cx="163.7" cy="280.9" rx="6.5" ry="6.0" fill="#fff" fill-opacity="0.05" stroke="#fff" stroke-opacity="0.28" stroke-width="1.2"/><circle cx="161.8" cy="280.0" r="1.2" fill="#fff" fill-opacity="0.35"/><circle cx="165.6" cy="281.5" r="1.1" fill="#fff" fill-opacity="0.3"/><ellipse cx="67.5" cy="295.7" rx="6.7" ry="6.7" fill="none" stroke="#000" stroke-opacity="0.09" stroke-width="1.2"/><ellipse cx="66.8" cy="294.9" rx="6.0" ry="6.0" fill="#fff" fill-opacity="0.05" stroke="#fff" stroke-opacity="0.28" stroke-width="1.2"/><circle cx="65.0" cy="294.0" r="1.2" fill="#fff" fill-opacity="0.35"/><circle cx="68.6" cy="295.5" r="1.1" fill="#fff" fill-opacity="0.3"/><ellipse cx="98.1" cy="235.8" rx="5.2" ry="5.2" fill="none" stroke="#000" stroke-opacity="0.09" stroke-width="1.2"/><ellipse cx="97.4" cy="235.0" rx="4.5" ry="4.5" fill="#fff" fill-opacity="0.05" stroke="#fff" stroke-opacity="0.28" stroke-width="1.2"/><circle cx="96.1" cy="234.3" r="1.2" fill="#fff" fill-opacity="0.35"/><circle cx="98.8" cy="235.4" r="1.1" fill="#fff" fill-opacity="0.3"/><ellipse cx="75" cy="238" rx="8" ry="9" fill="none" stroke="#fff" stroke-opacity="0.25" stroke-width="1.2"/><path d="M86,232 C88,238 86,245 82,249" stroke="#fff" stroke-opacity="0.55" stroke-width="1.6" fill="none"/></g>
<path d="M148,178 C158,205 164,245 170,290 M60,303 C90,307 130,306 168,300 M140,190 C150,220 155,250 160,270" stroke="#fff" stroke-opacity="0.14" stroke-width="1" fill="none" filter="url(#bA)"/>
</g>
<rect x="133.6" y="320.7" width="54.3" height="6.2" fill="#fff"/>
<defs><clipPath id="cD"><rect x="3.5" y="404.0" width="190.5" height="208.7"/></clipPath>
<filter id="bD" x="-20%" y="-20%" width="140%" height="140%"><feGaussianBlur stdDeviation="0.5"/></filter>
<filter id="bD2" x="-50%" y="-50%" width="200%" height="200%"><feGaussianBlur stdDeviation="2.5"/></filter>
<filter id="bD3" x="-50%" y="-50%" width="200%" height="200%"><feGaussianBlur stdDeviation="1.2"/></filter>
<filter id="nDW" x="0" y="0" width="100%" height="100%"><feTurbulence type="fractalNoise" baseFrequency="0.400" numOctaves="2" seed="11"/><feGaussianBlur stdDeviation="0.6"/><feColorMatrix type="matrix" values="0 0 0 0 1  0 0 0 0 1  0 0 0 0 1  0.24 0 0 0 -0.12"/></filter>
<filter id="nDB" x="0" y="0" width="100%" height="100%"><feTurbulence type="fractalNoise" baseFrequency="0.400" numOctaves="2" seed="11"/><feGaussianBlur stdDeviation="0.6"/><feColorMatrix type="matrix" values="0 0 0 0 0  0 0 0 0 0  0 0 0 0 0  -0.24 0 0 0 0.12"/></filter>
</defs>
<g clip-path="url(#cD)">
<rect x="3.5" y="404.0" width="190.5" height="208.7" fill="#b3b3b3"/>
<rect x="3.5" y="404" width="35" height="209" fill="#b4b4b4"/>
<path d="M38.5,404V613" stroke="#aaa" stroke-width="0.6" stroke-opacity="0.5"/>
<defs><mask id="mD" maskUnits="userSpaceOnUse" x="0" y="400" width="200" height="220"><path d="M42,428 C50,426 60,436 66,446 C72,456 80,470 88,482 C98,466 108,446 122,428 C130,416 140,406 146,404 L194,404 L194,428 C182,438 170,452 164,470 C158,490 158,520 162,545 C166,568 176,590 194,606 L194,613 L102,613 C84,604 64,596 50,588 C44,574 48,558 56,544 C64,528 70,510 74,496 C68,482 58,466 50,452 C46,444 40,434 42,428Z" fill="#fff" filter="url(#bD3)"/><path d="M80,424 C90,414 104,406 112,408 C114,416 104,426 94,432 C86,434 80,430 80,424Z" fill="#fff" filter="url(#bD3)"/><path d="M150,455 C165,440 180,432 194,428 L194,470 C182,474 168,478 158,480Z" fill="#fff" filter="url(#bD3)"/></mask></defs>
<path d="M42,428 C50,426 60,436 66,446 C72,456 80,470 88,482 C98,466 108,446 122,428 C130,416 140,406 146,404 L194,404 L194,428 C182,438 170,452 164,470 C158,490 158,520 162,545 C166,568 176,590 194,606 L194,613 L102,613 C84,604 64,596 50,588 C44,574 48,558 56,544 C64,528 70,510 74,496 C68,482 58,466 50,452 C46,444 40,434 42,428Z" fill="#c0c0c0" fill-opacity="0.55" filter="url(#bD3)"/>
<path d="M42,428 C50,426 60,436 66,446 C72,456 80,470 88,482 C98,466 108,446 122,428 C130,416 140,406 146,404 L194,404 L194,428 C182,438 170,452 164,470 C158,490 158,520 162,545 C166,568 176,590 194,606 L194,613 L102,613 C84,604 64,596 50,588 C44,574 48,558 56,544 C64,528 70,510 74,496 C68,482 58,466 50,452 C46,444 40,434 42,428Z" fill="none" stroke="#d0d0d0" stroke-width="0.9" stroke-opacity="0.35" filter="url(#bD)"/>
<path d="M80,424 C90,414 104,406 112,408 C114,416 104,426 94,432 C86,434 80,430 80,424Z" fill="#c0c0c0" fill-opacity="0.55" filter="url(#bD3)"/>
<path d="M80,424 C90,414 104,406 112,408 C114,416 104,426 94,432 C86,434 80,430 80,424Z" fill="none" stroke="#d0d0d0" stroke-width="0.9" stroke-opacity="0.35" filter="url(#bD)"/>
<path d="M150,455 C165,440 180,432 194,428 L194,470 C182,474 168,478 158,480Z" fill="#c0c0c0" fill-opacity="0.55" filter="url(#bD3)"/>
<path d="M150,455 C165,440 180,432 194,428 L194,470 C182,474 168,478 158,480Z" fill="none" stroke="#d0d0d0" stroke-width="0.9" stroke-opacity="0.35" filter="url(#bD)"/>
<g mask="url(#mD)"><rect x="3.5" y="404" width="191" height="209" filter="url(#nDW)"/><rect x="3.5" y="404" width="191" height="209" filter="url(#nDB)"/></g>
<path d="M150,404 C138,430 126,452 115,470 M165,404 C150,430 140,455 132,480 M194,440 C178,470 165,500 160,530 M45,430 C55,445 62,455 70,470 M50,432 C58,448 66,458 74,474" stroke="#d0d0d0" stroke-width="0.9" stroke-opacity="0.7" fill="none" filter="url(#bD)"/>
<ellipse cx="25.5" cy="462" rx="4" ry="6" fill="#505050" fill-opacity="0.35" filter="url(#bD2)"/>
<ellipse cx="57" cy="487" rx="4" ry="4" fill="#505050" fill-opacity="0.12" filter="url(#bD2)"/>
<ellipse cx="124.5" cy="530.5" rx="4.5" ry="5" fill="#404040" fill-opacity="0.35" filter="url(#bD2)"/>
<ellipse cx="165.5" cy="539" rx="4" ry="4" fill="#505050" fill-opacity="0.15" filter="url(#bD2)"/>
<ellipse cx="75" cy="410" rx="4" ry="3" fill="#505050" fill-opacity="0.12" filter="url(#bD2)"/>
<g filter="url(#bD)"><g transform="rotate(-35 100.5 416.8)"><ellipse cx="100.9" cy="417.3" rx="9.9" ry="5.4" fill="none" stroke="#8c8c8c" stroke-width="0.9" stroke-opacity="0.55"/><ellipse cx="100.5" cy="416.8" rx="9.0" ry="4.5" fill="#bfbfbf" stroke="#d2d2d2" stroke-width="1.0"/><circle cx="100.8" cy="417.1" r="1.2" fill="#e8e8e8"/></g><g transform="rotate(0 66.8 453.4)"><ellipse cx="67.2" cy="453.9" rx="5.9" ry="6.4" fill="none" stroke="#8c8c8c" stroke-width="0.9" stroke-opacity="0.55"/><ellipse cx="66.8" cy="453.4" rx="5.0" ry="5.5" fill="#bfbfbf" stroke="#d2d2d2" stroke-width="1.0"/><circle cx="67.1" cy="453.7" r="1.2" fill="#e8e8e8"/></g><g transform="rotate(15 76.1 468.0)"><ellipse cx="76.5" cy="468.5" rx="8.9" ry="6.4" fill="none" stroke="#8c8c8c" stroke-width="0.9" stroke-opacity="0.55"/><ellipse cx="76.1" cy="468.0" rx="8.0" ry="5.5" fill="#bfbfbf" stroke="#d2d2d2" stroke-width="1.0"/><circle cx="76.4" cy="468.3" r="1.2" fill="#e8e8e8"/></g><g transform="rotate(0 76.1 485.4)"><ellipse cx="76.5" cy="485.9" rx="5.4" ry="6.9" fill="none" stroke="#8c8c8c" stroke-width="0.9" stroke-opacity="0.55"/><ellipse cx="76.1" cy="485.4" rx="4.5" ry="6.0" fill="#bfbfbf" stroke="#d2d2d2" stroke-width="1.0"/><circle cx="76.4" cy="485.7" r="1.2" fill="#e8e8e8"/></g><g transform="rotate(0 85.4 492.1)"><ellipse cx="85.8" cy="492.6" rx="7.4" ry="7.4" fill="none" stroke="#8c8c8c" stroke-width="0.9" stroke-opacity="0.55"/><ellipse cx="85.4" cy="492.1" rx="6.5" ry="6.5" fill="#bfbfbf" stroke="#d2d2d2" stroke-width="1.0"/><circle cx="85.7" cy="492.4" r="1.2" fill="#e8e8e8"/></g><g transform="rotate(0 102.8 500.1)"><ellipse cx="103.2" cy="500.6" rx="7.4" ry="7.4" fill="none" stroke="#8c8c8c" stroke-width="0.9" stroke-opacity="0.55"/><ellipse cx="102.8" cy="500.1" rx="6.5" ry="6.5" fill="#bfbfbf" stroke="#d2d2d2" stroke-width="1.0"/><circle cx="103.1" cy="500.4" r="1.2" fill="#e8e8e8"/></g><g transform="rotate(0 120.2 485.4)"><ellipse cx="120.6" cy="485.9" rx="7.4" ry="7.4" fill="none" stroke="#8c8c8c" stroke-width="0.9" stroke-opacity="0.55"/><ellipse cx="120.2" cy="485.4" rx="6.5" ry="6.5" fill="#bfbfbf" stroke="#d2d2d2" stroke-width="1.0"/><circle cx="120.5" cy="485.7" r="1.2" fill="#e8e8e8"/></g><g transform="rotate(20 120.8 458.9)"><ellipse cx="121.2" cy="459.4" rx="5.9" ry="8.9" fill="none" stroke="#8c8c8c" stroke-width="0.9" stroke-opacity="0.55"/><ellipse cx="120.8" cy="458.9" rx="5.0" ry="8.0" fill="#bfbfbf" stroke="#d2d2d2" stroke-width="1.0"/><circle cx="121.1" cy="459.2" r="1.2" fill="#e8e8e8"/></g><g transform="rotate(15 139.0 446.0)"><ellipse cx="139.4" cy="446.5" rx="5.4" ry="8.9" fill="none" stroke="#8c8c8c" stroke-width="0.9" stroke-opacity="0.55"/><ellipse cx="139.0" cy="446.0" rx="4.5" ry="8.0" fill="#bfbfbf" stroke="#d2d2d2" stroke-width="1.0"/><circle cx="139.3" cy="446.3" r="1.2" fill="#e8e8e8"/></g><g transform="rotate(0 155.9 437.9)"><ellipse cx="156.3" cy="438.4" rx="7.4" ry="7.4" fill="none" stroke="#8c8c8c" stroke-width="0.9" stroke-opacity="0.55"/><ellipse cx="155.9" cy="437.9" rx="6.5" ry="6.5" fill="#bfbfbf" stroke="#d2d2d2" stroke-width="1.0"/><circle cx="156.2" cy="438.2" r="1.2" fill="#e8e8e8"/></g><g transform="rotate(40 188.1 444.9)"><ellipse cx="188.5" cy="445.4" rx="5.9" ry="8.9" fill="none" stroke="#8c8c8c" stroke-width="0.9" stroke-opacity="0.55"/><ellipse cx="188.1" cy="444.9" rx="5.0" ry="8.0" fill="#bfbfbf" stroke="#d2d2d2" stroke-width="1.0"/><circle cx="188.4" cy="445.2" r="1.2" fill="#e8e8e8"/></g><g transform="rotate(0 130.8 502.8)"><ellipse cx="131.2" cy="503.3" rx="6.9" ry="6.9" fill="none" stroke="#8c8c8c" stroke-width="0.9" stroke-opacity="0.55"/><ellipse cx="130.8" cy="502.8" rx="6.0" ry="6.0" fill="#bfbfbf" stroke="#d2d2d2" stroke-width="1.0"/><circle cx="131.1" cy="503.1" r="1.2" fill="#e8e8e8"/></g><g transform="rotate(0 143.3 495.3)"><ellipse cx="143.7" cy="495.8" rx="7.4" ry="7.4" fill="none" stroke="#8c8c8c" stroke-width="0.9" stroke-opacity="0.55"/><ellipse cx="143.3" cy="495.3" rx="6.5" ry="6.5" fill="#bfbfbf" stroke="#d2d2d2" stroke-width="1.0"/><circle cx="143.6" cy="495.6" r="1.2" fill="#e8e8e8"/></g><g transform="rotate(0 144.2 526.8)"><ellipse cx="144.6" cy="527.3" rx="7.4" ry="7.9" fill="none" stroke="#8c8c8c" stroke-width="0.9" stroke-opacity="0.55"/><ellipse cx="144.2" cy="526.8" rx="6.5" ry="7.0" fill="#bfbfbf" stroke="#d2d2d2" stroke-width="1.0"/><circle cx="144.5" cy="527.1" r="1.2" fill="#e8e8e8"/></g><g transform="rotate(0 152.2 536.2)"><ellipse cx="152.6" cy="536.7" rx="4.4" ry="7.4" fill="none" stroke="#8c8c8c" stroke-width="0.9" stroke-opacity="0.55"/><ellipse cx="152.2" cy="536.2" rx="3.5" ry="6.5" fill="#bfbfbf" stroke="#d2d2d2" stroke-width="1.0"/><circle cx="152.5" cy="536.5" r="1.2" fill="#e8e8e8"/></g><g transform="rotate(0 97.5 536.2)"><ellipse cx="97.9" cy="536.7" rx="7.4" ry="7.4" fill="none" stroke="#8c8c8c" stroke-width="0.9" stroke-opacity="0.55"/><ellipse cx="97.5" cy="536.2" rx="6.5" ry="6.5" fill="#bfbfbf" stroke="#d2d2d2" stroke-width="1.0"/><circle cx="97.8" cy="536.5" r="1.2" fill="#e8e8e8"/></g><g transform="rotate(0 114.8 553.5)"><ellipse cx="115.2" cy="554.0" rx="7.4" ry="7.4" fill="none" stroke="#8c8c8c" stroke-width="0.9" stroke-opacity="0.55"/><ellipse cx="114.8" cy="553.5" rx="6.5" ry="6.5" fill="#bfbfbf" stroke="#d2d2d2" stroke-width="1.0"/><circle cx="115.1" cy="553.8" r="1.2" fill="#e8e8e8"/></g><g transform="rotate(0 80.1 556.2)"><ellipse cx="80.5" cy="556.7" rx="7.4" ry="7.4" fill="none" stroke="#8c8c8c" stroke-width="0.9" stroke-opacity="0.55"/><ellipse cx="80.1" cy="556.2" rx="6.5" ry="6.5" fill="#bfbfbf" stroke="#d2d2d2" stroke-width="1.0"/><circle cx="80.4" cy="556.5" r="1.2" fill="#e8e8e8"/></g><g transform="rotate(0 64.1 537.5)"><ellipse cx="64.5" cy="538.0" rx="6.4" ry="6.4" fill="none" stroke="#8c8c8c" stroke-width="0.9" stroke-opacity="0.55"/><ellipse cx="64.1" cy="537.5" rx="5.5" ry="5.5" fill="#bfbfbf" stroke="#d2d2d2" stroke-width="1.0"/><circle cx="64.4" cy="537.8" r="1.2" fill="#e8e8e8"/></g><g transform="rotate(0 64.1 569.6)"><ellipse cx="64.5" cy="570.1" rx="6.9" ry="6.9" fill="none" stroke="#8c8c8c" stroke-width="0.9" stroke-opacity="0.55"/><ellipse cx="64.1" cy="569.6" rx="6.0" ry="6.0" fill="#bfbfbf" stroke="#d2d2d2" stroke-width="1.0"/><circle cx="64.4" cy="569.9" r="1.2" fill="#e8e8e8"/></g><g transform="rotate(0 88.1 565.6)"><ellipse cx="88.5" cy="566.1" rx="6.9" ry="6.9" fill="none" stroke="#8c8c8c" stroke-width="0.9" stroke-opacity="0.55"/><ellipse cx="88.1" cy="565.6" rx="6.0" ry="6.0" fill="#bfbfbf" stroke="#d2d2d2" stroke-width="1.0"/><circle cx="88.4" cy="565.9" r="1.2" fill="#e8e8e8"/></g><g transform="rotate(0 146.9 577.6)"><ellipse cx="147.3" cy="578.1" rx="7.4" ry="7.4" fill="none" stroke="#8c8c8c" stroke-width="0.9" stroke-opacity="0.55"/><ellipse cx="146.9" cy="577.6" rx="6.5" ry="6.5" fill="#bfbfbf" stroke="#d2d2d2" stroke-width="1.0"/><circle cx="147.2" cy="577.9" r="1.2" fill="#e8e8e8"/></g><g transform="rotate(0 105.5 598.9)"><ellipse cx="105.9" cy="599.4" rx="7.4" ry="7.4" fill="none" stroke="#8c8c8c" stroke-width="0.9" stroke-opacity="0.55"/><ellipse cx="105.5" cy="598.9" rx="6.5" ry="6.5" fill="#bfbfbf" stroke="#d2d2d2" stroke-width="1.0"/><circle cx="105.8" cy="599.2" r="1.2" fill="#e8e8e8"/></g><g transform="rotate(0 176.2 608.3)"><ellipse cx="176.6" cy="608.8" rx="6.9" ry="6.9" fill="none" stroke="#8c8c8c" stroke-width="0.9" stroke-opacity="0.55"/><ellipse cx="176.2" cy="608.3" rx="6.0" ry="6.0" fill="#bfbfbf" stroke="#d2d2d2" stroke-width="1.0"/><circle cx="176.5" cy="608.6" r="1.2" fill="#e8e8e8"/></g><circle cx="89.7" cy="520.2" r="1.1" fill="#cacaca" stroke="#707070" stroke-width="0.6" stroke-opacity="0.6"/><circle cx="106.2" cy="530.7" r="1.1" fill="#cacaca" stroke="#707070" stroke-width="0.6" stroke-opacity="0.6"/><circle cx="138.2" cy="436.5" r="1.1" fill="#cacaca" stroke="#707070" stroke-width="0.6" stroke-opacity="0.6"/><circle cx="61.6" cy="571.6" r="1.1" fill="#cacaca" stroke="#707070" stroke-width="0.6" stroke-opacity="0.6"/><circle cx="92.4" cy="466.0" r="1.1" fill="#cacaca" stroke="#707070" stroke-width="0.6" stroke-opacity="0.6"/><circle cx="184.5" cy="507.3" r="1.1" fill="#cacaca" stroke="#707070" stroke-width="0.6" stroke-opacity="0.6"/><circle cx="164.6" cy="508.4" r="1.1" fill="#cacaca" stroke="#707070" stroke-width="0.6" stroke-opacity="0.6"/><circle cx="139.9" cy="451.4" r="1.1" fill="#cacaca" stroke="#707070" stroke-width="0.6" stroke-opacity="0.6"/><circle cx="139.4" cy="576.9" r="1.1" fill="#cacaca" stroke="#707070" stroke-width="0.6" stroke-opacity="0.6"/><circle cx="125.4" cy="554.7" r="1.1" fill="#cacaca" stroke="#707070" stroke-width="0.6" stroke-opacity="0.6"/><circle cx="143.9" cy="436.2" r="1.1" fill="#cacaca" stroke="#707070" stroke-width="0.6" stroke-opacity="0.6"/><circle cx="154.8" cy="528.4" r="1.1" fill="#cacaca" stroke="#707070" stroke-width="0.6" stroke-opacity="0.6"/><circle cx="97.7" cy="430.4" r="1.1" fill="#cacaca" stroke="#707070" stroke-width="0.6" stroke-opacity="0.6"/><circle cx="168.2" cy="507.7" r="1.1" fill="#cacaca" stroke="#707070" stroke-width="0.6" stroke-opacity="0.6"/><circle cx="149.9" cy="578.8" r="1.1" fill="#cacaca" stroke="#707070" stroke-width="0.6" stroke-opacity="0.6"/><circle cx="149.3" cy="586.2" r="1.1" fill="#cacaca" stroke="#707070" stroke-width="0.6" stroke-opacity="0.6"/><circle cx="109.4" cy="565.2" r="1.1" fill="#cacaca" stroke="#707070" stroke-width="0.6" stroke-opacity="0.6"/><circle cx="115.6" cy="588.7" r="1.1" fill="#cacaca" stroke="#707070" stroke-width="0.6" stroke-opacity="0.6"/><circle cx="169.9" cy="442.1" r="1.1" fill="#cacaca" stroke="#707070" stroke-width="0.6" stroke-opacity="0.6"/><circle cx="77.0" cy="463.0" r="1.1" fill="#cacaca" stroke="#707070" stroke-width="0.6" stroke-opacity="0.6"/><circle cx="180.7" cy="501.3" r="1.1" fill="#cacaca" stroke="#707070" stroke-width="0.6" stroke-opacity="0.6"/><circle cx="138.3" cy="477.7" r="1.1" fill="#cacaca" stroke="#707070" stroke-width="0.6" stroke-opacity="0.6"/><circle cx="123.4" cy="492.5" r="1.1" fill="#cacaca" stroke="#707070" stroke-width="0.6" stroke-opacity="0.6"/><circle cx="103.9" cy="527.4" r="1.1" fill="#cacaca" stroke="#707070" stroke-width="0.6" stroke-opacity="0.6"/><circle cx="133.0" cy="583.2" r="1.1" fill="#cacaca" stroke="#707070" stroke-width="0.6" stroke-opacity="0.6"/><circle cx="145.2" cy="587.6" r="1.1" fill="#cacaca" stroke="#707070" stroke-width="0.6" stroke-opacity="0.6"/><circle cx="167.1" cy="598.4" r="1.1" fill="#cacaca" stroke="#707070" stroke-width="0.6" stroke-opacity="0.6"/><circle cx="143.9" cy="453.5" r="1.1" fill="#cacaca" stroke="#707070" stroke-width="0.6" stroke-opacity="0.6"/><circle cx="167.6" cy="593.8" r="1.1" fill="#cacaca" stroke="#707070" stroke-width="0.6" stroke-opacity="0.6"/><circle cx="173.1" cy="524.6" r="1.1" fill="#cacaca" stroke="#707070" stroke-width="0.6" stroke-opacity="0.6"/><circle cx="149.2" cy="461.9" r="1.1" fill="#cacaca" stroke="#707070" stroke-width="0.6" stroke-opacity="0.6"/><circle cx="164.0" cy="525.4" r="1.1" fill="#cacaca" stroke="#707070" stroke-width="0.6" stroke-opacity="0.6"/><circle cx="95.6" cy="436.1" r="1.1" fill="#cacaca" stroke="#707070" stroke-width="0.6" stroke-opacity="0.6"/><circle cx="166.7" cy="598.2" r="1.1" fill="#cacaca" stroke="#707070" stroke-width="0.6" stroke-opacity="0.6"/><circle cx="71.1" cy="565.1" r="1.1" fill="#cacaca" stroke="#707070" stroke-width="0.6" stroke-opacity="0.6"/><circle cx="111.3" cy="451.4" r="1.1" fill="#cacaca" stroke="#707070" stroke-width="0.6" stroke-opacity="0.6"/><circle cx="96.7" cy="559.5" r="1.1" fill="#cacaca" stroke="#707070" stroke-width="0.6" stroke-opacity="0.6"/><circle cx="169.1" cy="432.7" r="1.1" fill="#cacaca" stroke="#707070" stroke-width="0.6" stroke-opacity="0.6"/><circle cx="136.8" cy="432.9" r="1.1" fill="#cacaca" stroke="#707070" stroke-width="0.6" stroke-opacity="0.6"/><circle cx="149.8" cy="482.9" r="1.1" fill="#cacaca" stroke="#707070" stroke-width="0.6" stroke-opacity="0.6"/><circle cx="170.1" cy="596.6" r="1.1" fill="#cacaca" stroke="#707070" stroke-width="0.6" stroke-opacity="0.6"/><circle cx="123.2" cy="599.7" r="1.1" fill="#cacaca" stroke="#707070" stroke-width="0.6" stroke-opacity="0.6"/><circle cx="98.7" cy="438.5" r="1.1" fill="#cacaca" stroke="#707070" stroke-width="0.6" stroke-opacity="0.6"/><circle cx="135.0" cy="430.5" r="1.1" fill="#cacaca" stroke="#707070" stroke-width="0.6" stroke-opacity="0.6"/><circle cx="84.7" cy="496.4" r="1.1" fill="#cacaca" stroke="#707070" stroke-width="0.6" stroke-opacity="0.6"/><circle cx="160.1" cy="459.6" r="1.3" fill="#606060" fill-opacity="0.7"/><circle cx="165.0" cy="460.3" r="1.3" fill="#606060" fill-opacity="0.7"/><circle cx="108.2" cy="471.5" r="1.3" fill="#606060" fill-opacity="0.7"/><circle cx="168.5" cy="435.7" r="1.3" fill="#606060" fill-opacity="0.7"/><circle cx="63.4" cy="466.0" r="1.3" fill="#606060" fill-opacity="0.7"/><circle cx="102.8" cy="509.5" r="1.3" fill="#606060" fill-opacity="0.7"/><circle cx="108.0" cy="471.4" r="1.3" fill="#606060" fill-opacity="0.7"/><circle cx="61.0" cy="467.0" r="1.3" fill="#606060" fill-opacity="0.7"/><circle cx="50.0" cy="545.0" r="1.3" fill="#606060" fill-opacity="0.7"/><circle cx="48.0" cy="549.0" r="1.3" fill="#606060" fill-opacity="0.7"/><circle cx="155.0" cy="428.0" r="1.3" fill="#606060" fill-opacity="0.7"/><circle cx="162.0" cy="426.0" r="1.3" fill="#606060" fill-opacity="0.7"/></g>
</g>
<rect x="134" y="595.4" width="54" height="5.9" fill="#fff"/>
</svg></body></html>
